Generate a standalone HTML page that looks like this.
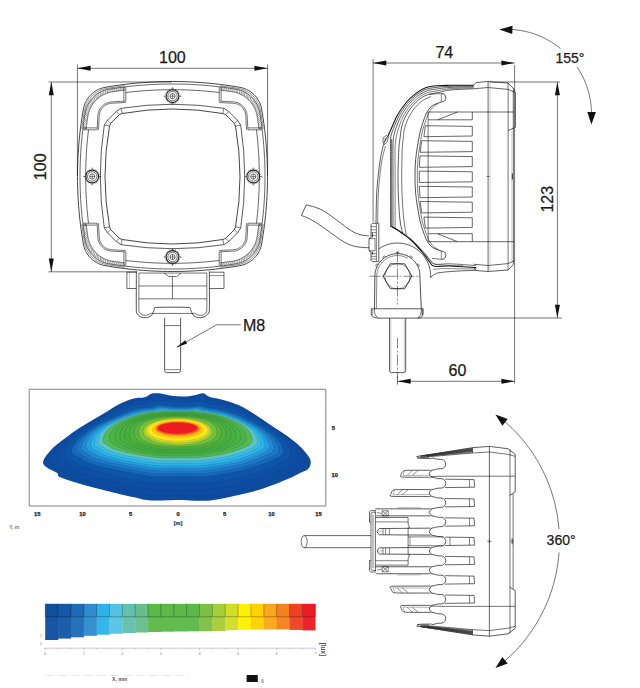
<!DOCTYPE html>
<html lang="en">
<head>
<meta charset="utf-8">
<title>Work lamp dimensions</title>
<style>
html,body{margin:0;padding:0;background:#fff;}
body{width:640px;height:688px;overflow:hidden;font-family:"Liberation Sans",sans-serif;}
svg{display:block;}
svg text{font-family:"Liberation Sans",sans-serif;}
</style>
</head>
<body>
<svg width="640" height="688" viewBox="0 0 640 688" stroke-linecap="butt" stroke-linejoin="round">
<rect x="0" y="0" width="640" height="688" fill="#ffffff"/>
<path d="M172.5 81.5 L167.66 81.53 L162.82 81.62 L157.98 81.77 L153.15 81.98 L148.32 82.25 L143.49 82.58 L138.67 82.97 L133.85 83.42 L129.03 83.93 L124.23 84.5 L119.43 85.13 L114.64 85.82 L109.86 86.56 L105.09 87.37 L103.75 87.64 L102.43 87.98 L101.13 88.38 L99.85 88.85 L98.59 89.39 L97.37 89.98 L96.18 90.64 L95.02 91.36 L93.9 92.14 L92.82 92.97 L91.79 93.86 L90.8 94.8 L89.86 95.79 L88.97 96.82 L88.14 97.9 L87.36 99.02 L86.64 100.18 L85.98 101.37 L85.39 102.59 L84.85 103.85 L84.38 105.13 L83.98 106.43 L83.64 107.75 L83.37 109.09 L82.56 113.86 L81.82 118.64 L81.13 123.43 L80.5 128.23 L79.93 133.03 L79.42 137.85 L78.97 142.67 L78.58 147.49 L78.25 152.32 L77.98 157.15 L77.77 161.98 L77.62 166.82 L77.53 171.66 L77.5 176.5 L77.53 181.34 L77.62 186.18 L77.77 191.02 L77.98 195.85 L78.25 200.68 L78.58 205.51 L78.97 210.33 L79.42 215.15 L79.93 219.97 L80.5 224.77 L81.13 229.57 L81.82 234.36 L82.56 239.14 L83.37 243.91 L83.64 245.25 L83.98 246.57 L84.38 247.87 L84.85 249.15 L85.39 250.41 L85.98 251.63 L86.64 252.82 L87.36 253.98 L88.14 255.1 L88.97 256.18 L89.86 257.21 L90.8 258.2 L91.79 259.14 L92.82 260.03 L93.9 260.86 L95.02 261.64 L96.18 262.36 L97.37 263.02 L98.59 263.61 L99.85 264.15 L101.13 264.62 L102.43 265.02 L103.75 265.36 L105.09 265.63 L109.86 266.44 L114.64 267.18 L119.43 267.87 L124.23 268.5 L129.03 269.07 L133.85 269.58 L138.67 270.03 L143.49 270.42 L148.32 270.75 L153.15 271.02 L157.98 271.23 L162.82 271.38 L167.66 271.47 L172.5 271.5 L177.34 271.47 L182.18 271.38 L187.02 271.23 L191.85 271.02 L196.68 270.75 L201.51 270.42 L206.33 270.03 L211.15 269.58 L215.97 269.07 L220.77 268.5 L225.57 267.87 L230.36 267.18 L235.14 266.44 L239.91 265.63 L241.25 265.36 L242.57 265.02 L243.87 264.62 L245.15 264.15 L246.41 263.61 L247.63 263.02 L248.82 262.36 L249.98 261.64 L251.1 260.86 L252.18 260.03 L253.21 259.14 L254.2 258.2 L255.14 257.21 L256.03 256.18 L256.86 255.1 L257.64 253.98 L258.36 252.82 L259.02 251.63 L259.61 250.41 L260.15 249.15 L260.62 247.87 L261.02 246.57 L261.36 245.25 L261.63 243.91 L262.44 239.14 L263.18 234.36 L263.87 229.57 L264.5 224.77 L265.07 219.97 L265.58 215.15 L266.03 210.33 L266.42 205.51 L266.75 200.68 L267.02 195.85 L267.23 191.02 L267.38 186.18 L267.47 181.34 L267.5 176.5 L267.47 171.66 L267.38 166.82 L267.23 161.98 L267.02 157.15 L266.75 152.32 L266.42 147.49 L266.03 142.67 L265.58 137.85 L265.07 133.03 L264.5 128.23 L263.87 123.43 L263.18 118.64 L262.44 113.86 L261.63 109.09 L261.36 107.75 L261.02 106.43 L260.62 105.13 L260.15 103.85 L259.61 102.59 L259.02 101.37 L258.36 100.18 L257.64 99.02 L256.86 97.9 L256.03 96.82 L255.14 95.79 L254.2 94.8 L253.21 93.86 L252.18 92.97 L251.1 92.14 L249.98 91.36 L248.82 90.64 L247.63 89.98 L246.41 89.39 L245.15 88.85 L243.87 88.38 L242.57 87.98 L241.25 87.64 L239.91 87.37 L235.14 86.56 L230.36 85.82 L225.57 85.13 L220.77 84.5 L215.97 83.93 L211.15 83.42 L206.33 82.97 L201.51 82.58 L196.68 82.25 L191.85 81.98 L187.02 81.77 L182.18 81.62 L177.34 81.53Z" fill="none" stroke="#161616" stroke-width="0.8"/>
<path d="M172.5 84 L167.92 84.03 L163.34 84.11 L158.75 84.24 L154.18 84.43 L149.6 84.67 L145.03 84.97 L140.46 85.32 L135.89 85.72 L131.33 86.18 L126.78 86.69 L122.23 87.25 L117.69 87.87 L113.16 88.54 L108.63 89.27 L107.19 89.54 L105.76 89.9 L104.36 90.32 L102.97 90.82 L101.62 91.39 L100.29 92.03 L99.01 92.73 L97.76 93.5 L96.55 94.34 L95.38 95.23 L94.27 96.19 L93.2 97.2 L92.19 98.27 L91.23 99.38 L90.34 100.55 L89.5 101.76 L88.73 103.01 L88.03 104.29 L87.39 105.62 L86.82 106.97 L86.32 108.36 L85.9 109.76 L85.54 111.19 L85.27 112.63 L84.54 117.16 L83.87 121.69 L83.25 126.23 L82.69 130.78 L82.18 135.33 L81.72 139.89 L81.32 144.46 L80.97 149.03 L80.67 153.6 L80.43 158.18 L80.24 162.75 L80.11 167.34 L80.03 171.92 L80 176.5 L80.03 181.08 L80.11 185.66 L80.24 190.25 L80.43 194.82 L80.67 199.4 L80.97 203.97 L81.32 208.54 L81.72 213.11 L82.18 217.67 L82.69 222.22 L83.25 226.77 L83.87 231.31 L84.54 235.84 L85.27 240.37 L85.54 241.81 L85.9 243.24 L86.32 244.64 L86.82 246.03 L87.39 247.38 L88.03 248.71 L88.73 249.99 L89.5 251.24 L90.34 252.45 L91.23 253.62 L92.19 254.73 L93.2 255.8 L94.27 256.81 L95.38 257.77 L96.55 258.66 L97.76 259.5 L99.01 260.27 L100.29 260.97 L101.62 261.61 L102.97 262.18 L104.36 262.68 L105.76 263.1 L107.19 263.46 L108.63 263.73 L113.16 264.46 L117.69 265.13 L122.23 265.75 L126.78 266.31 L131.33 266.82 L135.89 267.28 L140.46 267.68 L145.03 268.03 L149.6 268.33 L154.18 268.57 L158.75 268.76 L163.34 268.89 L167.92 268.97 L172.5 269 L177.08 268.97 L181.66 268.89 L186.25 268.76 L190.82 268.57 L195.4 268.33 L199.97 268.03 L204.54 267.68 L209.11 267.28 L213.67 266.82 L218.22 266.31 L222.77 265.75 L227.31 265.13 L231.84 264.46 L236.37 263.73 L237.81 263.46 L239.24 263.1 L240.64 262.68 L242.03 262.18 L243.38 261.61 L244.71 260.97 L245.99 260.27 L247.24 259.5 L248.45 258.66 L249.62 257.77 L250.73 256.81 L251.8 255.8 L252.81 254.73 L253.77 253.62 L254.66 252.45 L255.5 251.24 L256.27 249.99 L256.97 248.71 L257.61 247.38 L258.18 246.03 L258.68 244.64 L259.1 243.24 L259.46 241.81 L259.73 240.37 L260.46 235.84 L261.13 231.31 L261.75 226.77 L262.31 222.22 L262.82 217.67 L263.28 213.11 L263.68 208.54 L264.03 203.97 L264.33 199.4 L264.57 194.82 L264.76 190.25 L264.89 185.66 L264.97 181.08 L265 176.5 L264.97 171.92 L264.89 167.34 L264.76 162.75 L264.57 158.18 L264.33 153.6 L264.03 149.03 L263.68 144.46 L263.28 139.89 L262.82 135.33 L262.31 130.78 L261.75 126.23 L261.13 121.69 L260.46 117.16 L259.73 112.63 L259.46 111.19 L259.1 109.76 L258.68 108.36 L258.18 106.97 L257.61 105.62 L256.97 104.29 L256.27 103.01 L255.5 101.76 L254.66 100.55 L253.77 99.38 L252.81 98.27 L251.8 97.2 L250.73 96.19 L249.62 95.23 L248.45 94.34 L247.24 93.5 L245.99 92.73 L244.71 92.03 L243.38 91.39 L242.03 90.82 L240.64 90.32 L239.24 89.9 L237.81 89.54 L236.37 89.27 L231.84 88.54 L227.31 87.87 L222.77 87.25 L218.22 86.69 L213.67 86.18 L209.11 85.72 L204.54 85.32 L199.97 84.97 L195.4 84.67 L190.82 84.43 L186.25 84.24 L181.66 84.11 L177.08 84.03Z" fill="none" stroke="#161616" stroke-width="0.65"/>
<path d="M124.9 85.82 L123.92 85.94 L122.82 86.08 L121.72 86.22 L120.62 86.37 L119.53 86.51 L118.43 86.67 L117.34 86.82 L116.24 86.98 L115.14 87.14 L114.05 87.3 L112.96 87.47 L111.86 87.64 L110.77 87.82 L109.68 87.99 L108.58 88.17 L107.49 88.36 L106.4 88.54 L105.86 88.64 L105.32 88.75 L104.79 88.87 L104.25 89 L103.72 89.15 L103.2 89.3 L102.67 89.46 L102.15 89.64 L101.63 89.82 L101.12 90.02 L100.61 90.23 L100.11 90.44 L99.61 90.67 L99.11 90.91 L98.62 91.16 L98.14 91.41 L97.66 91.68 L97.18 91.96 L96.72 92.24 L96.25 92.54 L95.8 92.85 L95.35 93.16 L94.9 93.49 L94.47 93.82 L94.04 94.16 L93.62 94.51 L93.2 94.87 L92.79 95.24 L92.39 95.62 L92 96 L91.62 96.39 L91.24 96.79 L90.87 97.2 L90.51 97.62 L90.16 98.04 L89.82 98.47 L89.49 98.9 L89.16 99.35 L88.85 99.8 L88.54 100.25 L88.24 100.72 L87.96 101.18 L87.68 101.66 L87.41 102.14 L87.16 102.62 L86.91 103.11 L86.67 103.61 L86.44 104.11 L86.23 104.61 L86.02 105.12 L85.82 105.63 L85.64 106.15 L85.46 106.67 L85.3 107.2 L85.15 107.72 L85 108.25 L84.87 108.79 L84.75 109.32 L84.64 109.86 L84.54 110.4 L84.36 111.49 L84.17 112.58 L83.99 113.68 L83.82 114.77 L83.64 115.86 L83.47 116.96 L83.3 118.05 L83.14 119.14 L82.98 120.24 L82.82 121.34 L82.67 122.43 L82.51 123.53 L82.37 124.62 L82.22 125.72 L82.08 126.82 L81.94 127.92 L81.82 128.9" fill="none" stroke="#161616" stroke-width="0.5"/>
<path d="M124.9 90.12 L124.25 90.2 L123.25 90.32 L122.25 90.45 L121.25 90.58 L120.26 90.72 L119.26 90.85 L118.26 90.99 L117.26 91.13 L116.26 91.28 L115.27 91.42 L114.27 91.57 L113.27 91.72 L112.28 91.88 L111.67 91.98 L111.07 92.09 L110.47 92.22 L109.87 92.36 L109.27 92.51 L108.68 92.68 L108.09 92.85 L107.5 93.04 L106.92 93.24 L106.35 93.46 L105.77 93.68 L105.21 93.92 L104.64 94.17 L104.09 94.43 L103.54 94.7 L102.99 94.99 L102.45 95.28 L101.92 95.59 L101.39 95.91 L100.87 96.24 L100.36 96.58 L99.85 96.93 L99.36 97.29 L98.87 97.66 L98.38 98.04 L97.91 98.44 L97.44 98.84 L96.99 99.25 L96.54 99.67 L96.1 100.1 L95.67 100.54 L95.25 100.99 L94.84 101.44 L94.44 101.91 L94.04 102.38 L93.66 102.87 L93.29 103.36 L92.93 103.85 L92.58 104.36 L92.24 104.87 L91.91 105.39 L91.59 105.92 L91.28 106.45 L90.99 106.99 L90.7 107.54 L90.43 108.09 L90.17 108.64 L89.92 109.21 L89.68 109.77 L89.46 110.35 L89.24 110.92 L89.04 111.5 L88.85 112.09 L88.68 112.68 L88.51 113.27 L88.36 113.87 L88.22 114.47 L88.09 115.07 L87.98 115.67 L87.88 116.28 L87.72 117.27 L87.57 118.27 L87.42 119.27 L87.28 120.26 L87.13 121.26 L86.99 122.26 L86.85 123.26 L86.72 124.26 L86.58 125.25 L86.45 126.25 L86.32 127.25 L86.2 128.25 L86.12 128.9" fill="none" stroke="#161616" stroke-width="0.6"/>
<path d="M124.9 86.92 L122.73 90.39 M122.87 87.17 L120.88 90.63 M121.18 87.39 L119.33 90.84 M119.16 87.67 L117.48 91.1 M117.13 87.95 L115.63 91.37 M115.11 88.25 L113.77 91.65 M113.42 88.5 L112.23 91.89 M111.4 88.82 L110.39 92.24 M109.39 89.14 L108.58 92.7 M107.71 89.44 L107.1 93.18 M105.72 89.91 L105.35 93.86 M103.77 90.52 L103.66 94.64 M101.87 91.28 L102.01 95.54 M100.33 92.01 L100.69 96.36 M98.55 93 L99.16 97.44 M96.84 94.13 L97.7 98.62 M95.48 95.15 L96.55 99.66 M93.94 96.49 L95.24 101 M92.49 97.94 L94.02 102.42 M91.15 99.48 L92.89 103.91 M90.13 100.84 L92.02 105.21 M89 102.55 L91.08 106.83 M88.01 104.33 L90.24 108.5 M87.28 105.87 L89.62 109.93 M86.52 107.77 L88.98 111.69 M85.91 109.72 L88.46 113.49 M85.44 111.71 L88.05 115.31 M85.14 113.39 L87.79 116.85 M84.82 115.4 L87.51 118.7 M84.5 117.42 L87.23 120.55 M84.25 119.11 L87.01 122.1 M83.95 121.13 L86.76 123.95 M83.67 123.16 L86.51 125.81 M83.39 125.18 L86.27 127.66 M83.17 126.87 L86.12 128.9 M82.92 128.9 L86.12 128.9 " fill="none" stroke="#3a3a3a" stroke-width="0.5"/>
<path d="M123.9 87.2 L123.9 100.9" fill="none" stroke="#161616" stroke-width="0.6"/>
<path d="M125.8 87.2 L125.8 101.1" fill="none" stroke="#161616" stroke-width="0.6"/>
<path d="M83.2 127.9 L96.9 127.9" fill="none" stroke="#161616" stroke-width="0.6"/>
<path d="M83.2 129.8 L97.1 129.8" fill="none" stroke="#161616" stroke-width="0.6"/>
<path d="M125.8 101.1 L112.5 101.8 L110.58 101.93 L108.7 102.3 L106.87 102.92 L105.15 103.77 L103.55 104.84 L102.11 106.11 L100.84 107.55 L99.77 109.15 L98.92 110.87 L98.3 112.7 L97.93 114.58 L97.8 116.5 L97.1 129.8" fill="none" stroke="#161616" stroke-width="0.6"/>
<path d="M125.8 102.5 L112.5 103.2 L110.76 103.31 L109.06 103.65 L107.41 104.21 L105.85 104.98 L104.4 105.95 L103.1 107.1 L101.95 108.4 L100.98 109.85 L100.21 111.41 L99.65 113.06 L99.31 114.76 L99.2 116.5 L98.5 129.8" fill="none" stroke="#161616" stroke-width="0.6"/>
<path d="M124.9 267.18 L123.92 267.06 L122.82 266.92 L121.72 266.78 L120.62 266.63 L119.53 266.49 L118.43 266.33 L117.34 266.18 L116.24 266.02 L115.14 265.86 L114.05 265.7 L112.96 265.53 L111.86 265.36 L110.77 265.18 L109.68 265.01 L108.58 264.83 L107.49 264.64 L106.4 264.46 L105.86 264.36 L105.32 264.25 L104.79 264.13 L104.25 264 L103.72 263.85 L103.2 263.7 L102.67 263.54 L102.15 263.36 L101.63 263.18 L101.12 262.98 L100.61 262.77 L100.11 262.56 L99.61 262.33 L99.11 262.09 L98.62 261.84 L98.14 261.59 L97.66 261.32 L97.18 261.04 L96.72 260.76 L96.25 260.46 L95.8 260.15 L95.35 259.84 L94.9 259.51 L94.47 259.18 L94.04 258.84 L93.62 258.49 L93.2 258.13 L92.79 257.76 L92.39 257.38 L92 257 L91.62 256.61 L91.24 256.21 L90.87 255.8 L90.51 255.38 L90.16 254.96 L89.82 254.53 L89.49 254.1 L89.16 253.65 L88.85 253.2 L88.54 252.75 L88.24 252.28 L87.96 251.82 L87.68 251.34 L87.41 250.86 L87.16 250.38 L86.91 249.89 L86.67 249.39 L86.44 248.89 L86.23 248.39 L86.02 247.88 L85.82 247.37 L85.64 246.85 L85.46 246.33 L85.3 245.8 L85.15 245.28 L85 244.75 L84.87 244.21 L84.75 243.68 L84.64 243.14 L84.54 242.6 L84.36 241.51 L84.17 240.42 L83.99 239.32 L83.82 238.23 L83.64 237.14 L83.47 236.04 L83.3 234.95 L83.14 233.86 L82.98 232.76 L82.82 231.66 L82.67 230.57 L82.51 229.47 L82.37 228.38 L82.22 227.28 L82.08 226.18 L81.94 225.08 L81.82 224.1" fill="none" stroke="#161616" stroke-width="0.5"/>
<path d="M124.9 262.88 L124.25 262.8 L123.25 262.68 L122.25 262.55 L121.25 262.42 L120.26 262.28 L119.26 262.15 L118.26 262.01 L117.26 261.87 L116.26 261.72 L115.27 261.58 L114.27 261.43 L113.27 261.28 L112.28 261.12 L111.67 261.02 L111.07 260.91 L110.47 260.78 L109.87 260.64 L109.27 260.49 L108.68 260.32 L108.09 260.15 L107.5 259.96 L106.92 259.76 L106.35 259.54 L105.77 259.32 L105.21 259.08 L104.64 258.83 L104.09 258.57 L103.54 258.3 L102.99 258.01 L102.45 257.72 L101.92 257.41 L101.39 257.09 L100.87 256.76 L100.36 256.42 L99.85 256.07 L99.36 255.71 L98.87 255.34 L98.38 254.96 L97.91 254.56 L97.44 254.16 L96.99 253.75 L96.54 253.33 L96.1 252.9 L95.67 252.46 L95.25 252.01 L94.84 251.56 L94.44 251.09 L94.04 250.62 L93.66 250.13 L93.29 249.64 L92.93 249.15 L92.58 248.64 L92.24 248.13 L91.91 247.61 L91.59 247.08 L91.28 246.55 L90.99 246.01 L90.7 245.46 L90.43 244.91 L90.17 244.36 L89.92 243.79 L89.68 243.23 L89.46 242.65 L89.24 242.08 L89.04 241.5 L88.85 240.91 L88.68 240.32 L88.51 239.73 L88.36 239.13 L88.22 238.53 L88.09 237.93 L87.98 237.33 L87.88 236.72 L87.72 235.73 L87.57 234.73 L87.42 233.73 L87.28 232.74 L87.13 231.74 L86.99 230.74 L86.85 229.74 L86.72 228.74 L86.58 227.75 L86.45 226.75 L86.32 225.75 L86.2 224.75 L86.12 224.1" fill="none" stroke="#161616" stroke-width="0.6"/>
<path d="M124.9 266.08 L122.73 262.61 M122.87 265.83 L120.88 262.37 M121.18 265.61 L119.33 262.16 M119.16 265.33 L117.48 261.9 M117.13 265.05 L115.63 261.63 M115.11 264.75 L113.77 261.35 M113.42 264.5 L112.23 261.11 M111.4 264.18 L110.39 260.76 M109.39 263.86 L108.58 260.3 M107.71 263.56 L107.1 259.82 M105.72 263.09 L105.35 259.14 M103.77 262.48 L103.66 258.36 M101.87 261.72 L102.01 257.46 M100.33 260.99 L100.69 256.64 M98.55 260 L99.16 255.56 M96.84 258.87 L97.7 254.38 M95.48 257.85 L96.55 253.34 M93.94 256.51 L95.24 252 M92.49 255.06 L94.02 250.58 M91.15 253.52 L92.89 249.09 M90.13 252.16 L92.02 247.79 M89 250.45 L91.08 246.17 M88.01 248.67 L90.24 244.5 M87.28 247.13 L89.62 243.07 M86.52 245.23 L88.98 241.31 M85.91 243.28 L88.46 239.51 M85.44 241.29 L88.05 237.69 M85.14 239.61 L87.79 236.15 M84.82 237.6 L87.51 234.3 M84.5 235.58 L87.23 232.45 M84.25 233.89 L87.01 230.9 M83.95 231.87 L86.76 229.05 M83.67 229.84 L86.51 227.19 M83.39 227.82 L86.27 225.34 M83.17 226.13 L86.12 224.1 M82.92 224.1 L86.12 224.1 " fill="none" stroke="#3a3a3a" stroke-width="0.5"/>
<path d="M123.9 265.8 L123.9 252.1" fill="none" stroke="#161616" stroke-width="0.6"/>
<path d="M125.8 265.8 L125.8 251.9" fill="none" stroke="#161616" stroke-width="0.6"/>
<path d="M83.2 225.1 L96.9 225.1" fill="none" stroke="#161616" stroke-width="0.6"/>
<path d="M83.2 223.2 L97.1 223.2" fill="none" stroke="#161616" stroke-width="0.6"/>
<path d="M125.8 251.9 L112.5 251.2 L110.58 251.07 L108.7 250.7 L106.87 250.08 L105.15 249.23 L103.55 248.16 L102.11 246.89 L100.84 245.45 L99.77 243.85 L98.92 242.13 L98.3 240.3 L97.93 238.42 L97.8 236.5 L97.1 223.2" fill="none" stroke="#161616" stroke-width="0.6"/>
<path d="M125.8 250.5 L112.5 249.8 L110.76 249.69 L109.06 249.35 L107.41 248.79 L105.85 248.02 L104.4 247.05 L103.1 245.9 L101.95 244.6 L100.98 243.15 L100.21 241.59 L99.65 239.94 L99.31 238.24 L99.2 236.5 L98.5 223.2" fill="none" stroke="#161616" stroke-width="0.6"/>
<path d="M220.1 85.82 L221.08 85.94 L222.18 86.08 L223.28 86.22 L224.38 86.37 L225.47 86.51 L226.57 86.67 L227.66 86.82 L228.76 86.98 L229.86 87.14 L230.95 87.3 L232.04 87.47 L233.14 87.64 L234.23 87.82 L235.32 87.99 L236.42 88.17 L237.51 88.36 L238.6 88.54 L239.14 88.64 L239.68 88.75 L240.21 88.87 L240.75 89 L241.28 89.15 L241.8 89.3 L242.33 89.46 L242.85 89.64 L243.37 89.82 L243.88 90.02 L244.39 90.23 L244.89 90.44 L245.39 90.67 L245.89 90.91 L246.38 91.16 L246.86 91.41 L247.34 91.68 L247.82 91.96 L248.28 92.24 L248.75 92.54 L249.2 92.85 L249.65 93.16 L250.1 93.49 L250.53 93.82 L250.96 94.16 L251.38 94.51 L251.8 94.87 L252.21 95.24 L252.61 95.62 L253 96 L253.38 96.39 L253.76 96.79 L254.13 97.2 L254.49 97.62 L254.84 98.04 L255.18 98.47 L255.51 98.9 L255.84 99.35 L256.15 99.8 L256.46 100.25 L256.76 100.72 L257.04 101.18 L257.32 101.66 L257.59 102.14 L257.84 102.62 L258.09 103.11 L258.33 103.61 L258.56 104.11 L258.77 104.61 L258.98 105.12 L259.18 105.63 L259.36 106.15 L259.54 106.67 L259.7 107.2 L259.85 107.72 L260 108.25 L260.13 108.79 L260.25 109.32 L260.36 109.86 L260.46 110.4 L260.64 111.49 L260.83 112.58 L261.01 113.68 L261.18 114.77 L261.36 115.86 L261.53 116.96 L261.7 118.05 L261.86 119.14 L262.02 120.24 L262.18 121.34 L262.33 122.43 L262.49 123.53 L262.63 124.62 L262.78 125.72 L262.92 126.82 L263.06 127.92 L263.18 128.9" fill="none" stroke="#161616" stroke-width="0.5"/>
<path d="M220.1 90.12 L220.75 90.2 L221.75 90.32 L222.75 90.45 L223.75 90.58 L224.74 90.72 L225.74 90.85 L226.74 90.99 L227.74 91.13 L228.74 91.28 L229.73 91.42 L230.73 91.57 L231.73 91.72 L232.72 91.88 L233.33 91.98 L233.93 92.09 L234.53 92.22 L235.13 92.36 L235.73 92.51 L236.32 92.68 L236.91 92.85 L237.5 93.04 L238.08 93.24 L238.65 93.46 L239.23 93.68 L239.79 93.92 L240.36 94.17 L240.91 94.43 L241.46 94.7 L242.01 94.99 L242.55 95.28 L243.08 95.59 L243.61 95.91 L244.13 96.24 L244.64 96.58 L245.15 96.93 L245.64 97.29 L246.13 97.66 L246.62 98.04 L247.09 98.44 L247.56 98.84 L248.01 99.25 L248.46 99.67 L248.9 100.1 L249.33 100.54 L249.75 100.99 L250.16 101.44 L250.56 101.91 L250.96 102.38 L251.34 102.87 L251.71 103.36 L252.07 103.85 L252.42 104.36 L252.76 104.87 L253.09 105.39 L253.41 105.92 L253.72 106.45 L254.01 106.99 L254.3 107.54 L254.57 108.09 L254.83 108.64 L255.08 109.21 L255.32 109.77 L255.54 110.35 L255.76 110.92 L255.96 111.5 L256.15 112.09 L256.32 112.68 L256.49 113.27 L256.64 113.87 L256.78 114.47 L256.91 115.07 L257.02 115.67 L257.12 116.28 L257.28 117.27 L257.43 118.27 L257.58 119.27 L257.72 120.26 L257.87 121.26 L258.01 122.26 L258.15 123.26 L258.28 124.26 L258.42 125.25 L258.55 126.25 L258.68 127.25 L258.8 128.25 L258.88 128.9" fill="none" stroke="#161616" stroke-width="0.6"/>
<path d="M220.1 86.92 L222.27 90.39 M222.13 87.17 L224.12 90.63 M223.82 87.39 L225.67 90.84 M225.84 87.67 L227.52 91.1 M227.87 87.95 L229.37 91.37 M229.89 88.25 L231.23 91.65 M231.58 88.5 L232.77 91.89 M233.6 88.82 L234.61 92.24 M235.61 89.14 L236.42 92.7 M237.29 89.44 L237.9 93.18 M239.28 89.91 L239.65 93.86 M241.23 90.52 L241.34 94.64 M243.13 91.28 L242.99 95.54 M244.67 92.01 L244.31 96.36 M246.45 93 L245.84 97.44 M248.16 94.13 L247.3 98.62 M249.52 95.15 L248.45 99.66 M251.06 96.49 L249.76 101 M252.51 97.94 L250.98 102.42 M253.85 99.48 L252.11 103.91 M254.87 100.84 L252.98 105.21 M256 102.55 L253.92 106.83 M256.99 104.33 L254.76 108.5 M257.72 105.87 L255.38 109.93 M258.48 107.77 L256.02 111.69 M259.09 109.72 L256.54 113.49 M259.56 111.71 L256.95 115.31 M259.86 113.39 L257.21 116.85 M260.18 115.4 L257.49 118.7 M260.5 117.42 L257.77 120.55 M260.75 119.11 L257.99 122.1 M261.05 121.13 L258.24 123.95 M261.33 123.16 L258.49 125.81 M261.61 125.18 L258.73 127.66 M261.83 126.87 L258.88 128.9 M262.08 128.9 L258.88 128.9 " fill="none" stroke="#3a3a3a" stroke-width="0.5"/>
<path d="M221.1 87.2 L221.1 100.9" fill="none" stroke="#161616" stroke-width="0.6"/>
<path d="M219.2 87.2 L219.2 101.1" fill="none" stroke="#161616" stroke-width="0.6"/>
<path d="M261.8 127.9 L248.1 127.9" fill="none" stroke="#161616" stroke-width="0.6"/>
<path d="M261.8 129.8 L247.9 129.8" fill="none" stroke="#161616" stroke-width="0.6"/>
<path d="M219.2 101.1 L232.5 101.8 L234.42 101.93 L236.3 102.3 L238.13 102.92 L239.85 103.77 L241.45 104.84 L242.89 106.11 L244.16 107.55 L245.23 109.15 L246.08 110.87 L246.7 112.7 L247.07 114.58 L247.2 116.5 L247.9 129.8" fill="none" stroke="#161616" stroke-width="0.6"/>
<path d="M219.2 102.5 L232.5 103.2 L234.24 103.31 L235.94 103.65 L237.59 104.21 L239.15 104.98 L240.6 105.95 L241.9 107.1 L243.05 108.4 L244.02 109.85 L244.79 111.41 L245.35 113.06 L245.69 114.76 L245.8 116.5 L246.5 129.8" fill="none" stroke="#161616" stroke-width="0.6"/>
<path d="M220.1 267.18 L221.08 267.06 L222.18 266.92 L223.28 266.78 L224.38 266.63 L225.47 266.49 L226.57 266.33 L227.66 266.18 L228.76 266.02 L229.86 265.86 L230.95 265.7 L232.04 265.53 L233.14 265.36 L234.23 265.18 L235.32 265.01 L236.42 264.83 L237.51 264.64 L238.6 264.46 L239.14 264.36 L239.68 264.25 L240.21 264.13 L240.75 264 L241.28 263.85 L241.8 263.7 L242.33 263.54 L242.85 263.36 L243.37 263.18 L243.88 262.98 L244.39 262.77 L244.89 262.56 L245.39 262.33 L245.89 262.09 L246.38 261.84 L246.86 261.59 L247.34 261.32 L247.82 261.04 L248.28 260.76 L248.75 260.46 L249.2 260.15 L249.65 259.84 L250.1 259.51 L250.53 259.18 L250.96 258.84 L251.38 258.49 L251.8 258.13 L252.21 257.76 L252.61 257.38 L253 257 L253.38 256.61 L253.76 256.21 L254.13 255.8 L254.49 255.38 L254.84 254.96 L255.18 254.53 L255.51 254.1 L255.84 253.65 L256.15 253.2 L256.46 252.75 L256.76 252.28 L257.04 251.82 L257.32 251.34 L257.59 250.86 L257.84 250.38 L258.09 249.89 L258.33 249.39 L258.56 248.89 L258.77 248.39 L258.98 247.88 L259.18 247.37 L259.36 246.85 L259.54 246.33 L259.7 245.8 L259.85 245.28 L260 244.75 L260.13 244.21 L260.25 243.68 L260.36 243.14 L260.46 242.6 L260.64 241.51 L260.83 240.42 L261.01 239.32 L261.18 238.23 L261.36 237.14 L261.53 236.04 L261.7 234.95 L261.86 233.86 L262.02 232.76 L262.18 231.66 L262.33 230.57 L262.49 229.47 L262.63 228.38 L262.78 227.28 L262.92 226.18 L263.06 225.08 L263.18 224.1" fill="none" stroke="#161616" stroke-width="0.5"/>
<path d="M220.1 262.88 L220.75 262.8 L221.75 262.68 L222.75 262.55 L223.75 262.42 L224.74 262.28 L225.74 262.15 L226.74 262.01 L227.74 261.87 L228.74 261.72 L229.73 261.58 L230.73 261.43 L231.73 261.28 L232.72 261.12 L233.33 261.02 L233.93 260.91 L234.53 260.78 L235.13 260.64 L235.73 260.49 L236.32 260.32 L236.91 260.15 L237.5 259.96 L238.08 259.76 L238.65 259.54 L239.23 259.32 L239.79 259.08 L240.36 258.83 L240.91 258.57 L241.46 258.3 L242.01 258.01 L242.55 257.72 L243.08 257.41 L243.61 257.09 L244.13 256.76 L244.64 256.42 L245.15 256.07 L245.64 255.71 L246.13 255.34 L246.62 254.96 L247.09 254.56 L247.56 254.16 L248.01 253.75 L248.46 253.33 L248.9 252.9 L249.33 252.46 L249.75 252.01 L250.16 251.56 L250.56 251.09 L250.96 250.62 L251.34 250.13 L251.71 249.64 L252.07 249.15 L252.42 248.64 L252.76 248.13 L253.09 247.61 L253.41 247.08 L253.72 246.55 L254.01 246.01 L254.3 245.46 L254.57 244.91 L254.83 244.36 L255.08 243.79 L255.32 243.23 L255.54 242.65 L255.76 242.08 L255.96 241.5 L256.15 240.91 L256.32 240.32 L256.49 239.73 L256.64 239.13 L256.78 238.53 L256.91 237.93 L257.02 237.33 L257.12 236.72 L257.28 235.73 L257.43 234.73 L257.58 233.73 L257.72 232.74 L257.87 231.74 L258.01 230.74 L258.15 229.74 L258.28 228.74 L258.42 227.75 L258.55 226.75 L258.68 225.75 L258.8 224.75 L258.88 224.1" fill="none" stroke="#161616" stroke-width="0.6"/>
<path d="M220.1 266.08 L222.27 262.61 M222.13 265.83 L224.12 262.37 M223.82 265.61 L225.67 262.16 M225.84 265.33 L227.52 261.9 M227.87 265.05 L229.37 261.63 M229.89 264.75 L231.23 261.35 M231.58 264.5 L232.77 261.11 M233.6 264.18 L234.61 260.76 M235.61 263.86 L236.42 260.3 M237.29 263.56 L237.9 259.82 M239.28 263.09 L239.65 259.14 M241.23 262.48 L241.34 258.36 M243.13 261.72 L242.99 257.46 M244.67 260.99 L244.31 256.64 M246.45 260 L245.84 255.56 M248.16 258.87 L247.3 254.38 M249.52 257.85 L248.45 253.34 M251.06 256.51 L249.76 252 M252.51 255.06 L250.98 250.58 M253.85 253.52 L252.11 249.09 M254.87 252.16 L252.98 247.79 M256 250.45 L253.92 246.17 M256.99 248.67 L254.76 244.5 M257.72 247.13 L255.38 243.07 M258.48 245.23 L256.02 241.31 M259.09 243.28 L256.54 239.51 M259.56 241.29 L256.95 237.69 M259.86 239.61 L257.21 236.15 M260.18 237.6 L257.49 234.3 M260.5 235.58 L257.77 232.45 M260.75 233.89 L257.99 230.9 M261.05 231.87 L258.24 229.05 M261.33 229.84 L258.49 227.19 M261.61 227.82 L258.73 225.34 M261.83 226.13 L258.88 224.1 M262.08 224.1 L258.88 224.1 " fill="none" stroke="#3a3a3a" stroke-width="0.5"/>
<path d="M221.1 265.8 L221.1 252.1" fill="none" stroke="#161616" stroke-width="0.6"/>
<path d="M219.2 265.8 L219.2 251.9" fill="none" stroke="#161616" stroke-width="0.6"/>
<path d="M261.8 225.1 L248.1 225.1" fill="none" stroke="#161616" stroke-width="0.6"/>
<path d="M261.8 223.2 L247.9 223.2" fill="none" stroke="#161616" stroke-width="0.6"/>
<path d="M219.2 251.9 L232.5 251.2 L234.42 251.07 L236.3 250.7 L238.13 250.08 L239.85 249.23 L241.45 248.16 L242.89 246.89 L244.16 245.45 L245.23 243.85 L246.08 242.13 L246.7 240.3 L247.07 238.42 L247.2 236.5 L247.9 223.2" fill="none" stroke="#161616" stroke-width="0.6"/>
<path d="M219.2 250.5 L232.5 249.8 L234.24 249.69 L235.94 249.35 L237.59 248.79 L239.15 248.02 L240.6 247.05 L241.9 245.9 L243.05 244.6 L244.02 243.15 L244.79 241.59 L245.35 239.94 L245.69 238.24 L245.8 236.5 L246.5 223.2" fill="none" stroke="#161616" stroke-width="0.6"/>
<path d="M125.8 92.51 L130.47 91.97 L135.14 91.49 L139.81 91.07 L144.48 90.71 L149.15 90.4 L153.82 90.15 L158.49 89.95 L163.16 89.81 L167.83 89.73 L172.5 89.7 L177.17 89.73 L181.84 89.81 L186.51 89.95 L191.18 90.15 L195.85 90.4 L200.52 90.71 L205.19 91.07 L209.86 91.49 L214.53 91.97 L219.2 92.51" fill="none" stroke="#161616" stroke-width="0.65"/>
<path d="M256.49 129.8 L257.03 134.47 L257.51 139.14 L257.93 143.81 L258.29 148.48 L258.6 153.15 L258.85 157.82 L259.05 162.49 L259.19 167.16 L259.27 171.83 L259.3 176.5 L259.27 181.17 L259.19 185.84 L259.05 190.51 L258.85 195.18 L258.6 199.85 L258.29 204.52 L257.93 209.19 L257.51 213.86 L257.03 218.53 L256.49 223.2" fill="none" stroke="#161616" stroke-width="0.65"/>
<path d="M219.2 260.49 L214.53 261.03 L209.86 261.51 L205.19 261.93 L200.52 262.29 L195.85 262.6 L191.18 262.85 L186.51 263.05 L181.84 263.19 L177.17 263.27 L172.5 263.3 L167.83 263.27 L163.16 263.19 L158.49 263.05 L153.82 262.85 L149.15 262.6 L144.48 262.29 L139.81 261.93 L135.14 261.51 L130.47 261.03 L125.8 260.49" fill="none" stroke="#161616" stroke-width="0.65"/>
<path d="M88.51 223.2 L87.97 218.53 L87.49 213.86 L87.07 209.19 L86.71 204.52 L86.4 199.85 L86.15 195.18 L85.95 190.51 L85.81 185.84 L85.73 181.17 L85.7 176.5 L85.73 171.83 L85.81 167.16 L85.95 162.49 L86.15 157.82 L86.4 153.15 L86.71 148.48 L87.07 143.81 L87.49 139.14 L87.97 134.47 L88.51 129.8" fill="none" stroke="#161616" stroke-width="0.65"/>
<path d="M223.9 108.3 Q172.5 100.3 121.1 108.3 L116.2 111.5 L107.5 120.2 L104.3 125.1 Q96.3 176.5 104.3 227.9 L107.5 232.8 L116.2 241.5 L121.1 244.7 Q172.5 252.7 223.9 244.7 L228.8 241.5 L237.5 232.8 L240.7 227.9 Q248.7 176.5 240.7 125.1 L237.5 120.2 L228.8 111.5 L223.9 108.3 Z" fill="none" stroke="#161616" stroke-width="0.7"/>
<path d="M222.8 113.5 Q172.5 104.5 122.2 113.5 L119.3 114.7 L110.7 123.3 L109.5 126.2 Q100.5 176.5 109.5 226.8 L110.7 229.7 L119.3 238.3 L122.2 239.5 Q172.5 248.5 222.8 239.5 L225.7 238.3 L234.3 229.7 L235.5 226.8 Q244.5 176.5 235.5 126.2 L234.3 123.3 L225.7 114.7 L222.8 113.5 Z" fill="none" stroke="#161616" stroke-width="0.8"/>
<path d="M121.1 108.3 L122.2 113.5" fill="none" stroke="#161616" stroke-width="0.55"/>
<path d="M116.2 111.5 L119.3 114.7" fill="none" stroke="#161616" stroke-width="0.55"/>
<path d="M107.5 120.2 L110.7 123.3" fill="none" stroke="#161616" stroke-width="0.55"/>
<path d="M104.3 125.1 L109.5 126.2" fill="none" stroke="#161616" stroke-width="0.55"/>
<path d="M121.1 244.7 L122.2 239.5" fill="none" stroke="#161616" stroke-width="0.55"/>
<path d="M116.2 241.5 L119.3 238.3" fill="none" stroke="#161616" stroke-width="0.55"/>
<path d="M107.5 232.8 L110.7 229.7" fill="none" stroke="#161616" stroke-width="0.55"/>
<path d="M104.3 227.9 L109.5 226.8" fill="none" stroke="#161616" stroke-width="0.55"/>
<path d="M223.9 108.3 L222.8 113.5" fill="none" stroke="#161616" stroke-width="0.55"/>
<path d="M228.8 111.5 L225.7 114.7" fill="none" stroke="#161616" stroke-width="0.55"/>
<path d="M237.5 120.2 L234.3 123.3" fill="none" stroke="#161616" stroke-width="0.55"/>
<path d="M240.7 125.1 L235.5 126.2" fill="none" stroke="#161616" stroke-width="0.55"/>
<path d="M223.9 244.7 L222.8 239.5" fill="none" stroke="#161616" stroke-width="0.55"/>
<path d="M228.8 241.5 L225.7 238.3" fill="none" stroke="#161616" stroke-width="0.55"/>
<path d="M237.5 232.8 L234.3 229.7" fill="none" stroke="#161616" stroke-width="0.55"/>
<path d="M240.7 227.9 L235.5 226.8" fill="none" stroke="#161616" stroke-width="0.55"/>
<circle cx="172.5" cy="96.2" r="6.4" fill="none" stroke="#222" stroke-width="1.1"/>
<circle cx="172.5" cy="96.2" r="7.5" fill="none" stroke="#555" stroke-width="0.7" stroke-dasharray="0.9 1.2"/>
<circle cx="172.5" cy="96.2" r="4.7" fill="none" stroke="#161616" stroke-width="0.6"/>
<circle cx="172.5" cy="96.2" r="2.6" fill="none" stroke="#161616" stroke-width="0.6"/>
<path d="M169.9 96.2 L175.1 96.2" fill="none" stroke="#161616" stroke-width="0.5"/>
<path d="M172.5 93.6 L172.5 98.8" fill="none" stroke="#161616" stroke-width="0.5"/>
<path d="M179.5 96.2 L181.5 96.2" fill="none" stroke="#161616" stroke-width="0.55"/>
<path d="M165.5 96.2 L163.5 96.2" fill="none" stroke="#161616" stroke-width="0.55"/>
<path d="M172.5 103.2 L172.5 105.2" fill="none" stroke="#161616" stroke-width="0.55"/>
<path d="M172.5 89.2 L172.5 87.2" fill="none" stroke="#161616" stroke-width="0.55"/>
<circle cx="172.5" cy="257" r="6.4" fill="none" stroke="#222" stroke-width="1.1"/>
<circle cx="172.5" cy="257" r="7.5" fill="none" stroke="#555" stroke-width="0.7" stroke-dasharray="0.9 1.2"/>
<circle cx="172.5" cy="257" r="4.7" fill="none" stroke="#161616" stroke-width="0.6"/>
<circle cx="172.5" cy="257" r="2.6" fill="none" stroke="#161616" stroke-width="0.6"/>
<path d="M169.9 257 L175.1 257" fill="none" stroke="#161616" stroke-width="0.5"/>
<path d="M172.5 254.4 L172.5 259.6" fill="none" stroke="#161616" stroke-width="0.5"/>
<path d="M179.5 257 L181.5 257" fill="none" stroke="#161616" stroke-width="0.55"/>
<path d="M165.5 257 L163.5 257" fill="none" stroke="#161616" stroke-width="0.55"/>
<path d="M172.5 264 L172.5 266" fill="none" stroke="#161616" stroke-width="0.55"/>
<path d="M172.5 250 L172.5 248" fill="none" stroke="#161616" stroke-width="0.55"/>
<circle cx="92.2" cy="176.5" r="6.4" fill="none" stroke="#222" stroke-width="1.1"/>
<circle cx="92.2" cy="176.5" r="7.5" fill="none" stroke="#555" stroke-width="0.7" stroke-dasharray="0.9 1.2"/>
<circle cx="92.2" cy="176.5" r="4.7" fill="none" stroke="#161616" stroke-width="0.6"/>
<circle cx="92.2" cy="176.5" r="2.6" fill="none" stroke="#161616" stroke-width="0.6"/>
<path d="M89.6 176.5 L94.8 176.5" fill="none" stroke="#161616" stroke-width="0.5"/>
<path d="M92.2 173.9 L92.2 179.1" fill="none" stroke="#161616" stroke-width="0.5"/>
<path d="M99.2 176.5 L101.2 176.5" fill="none" stroke="#161616" stroke-width="0.55"/>
<path d="M85.2 176.5 L83.2 176.5" fill="none" stroke="#161616" stroke-width="0.55"/>
<path d="M92.2 183.5 L92.2 185.5" fill="none" stroke="#161616" stroke-width="0.55"/>
<path d="M92.2 169.5 L92.2 167.5" fill="none" stroke="#161616" stroke-width="0.55"/>
<circle cx="253.3" cy="176.5" r="6.4" fill="none" stroke="#222" stroke-width="1.1"/>
<circle cx="253.3" cy="176.5" r="7.5" fill="none" stroke="#555" stroke-width="0.7" stroke-dasharray="0.9 1.2"/>
<circle cx="253.3" cy="176.5" r="4.7" fill="none" stroke="#161616" stroke-width="0.6"/>
<circle cx="253.3" cy="176.5" r="2.6" fill="none" stroke="#161616" stroke-width="0.6"/>
<path d="M250.7 176.5 L255.9 176.5" fill="none" stroke="#161616" stroke-width="0.5"/>
<path d="M253.3 173.9 L253.3 179.1" fill="none" stroke="#161616" stroke-width="0.5"/>
<path d="M260.3 176.5 L262.3 176.5" fill="none" stroke="#161616" stroke-width="0.55"/>
<path d="M246.3 176.5 L244.3 176.5" fill="none" stroke="#161616" stroke-width="0.55"/>
<path d="M253.3 183.5 L253.3 185.5" fill="none" stroke="#161616" stroke-width="0.55"/>
<path d="M253.3 169.5 L253.3 167.5" fill="none" stroke="#161616" stroke-width="0.55"/>
<path d="M136.33 272.19 L126.88 272.19 L126.88 288.52 L136.33 288.52" fill="none" stroke="#161616" stroke-width="0.65"/>
<path d="M129.45 272.19 L129.45 288.52" fill="none" stroke="#777" stroke-width="0.4"/>
<path d="M209.38 272.19 L223.98 272.19 L223.98 288.52 L209.38 288.52" fill="none" stroke="#161616" stroke-width="0.65"/>
<path d="M209.38 275.62 L223.98 275.62" fill="none" stroke="#161616" stroke-width="0.5"/>
<path d="M136.33 271.33 C136.33 276.44 136.21 304.04 136.33 309.66 C136.44 315.27 136.73 312.54 137.19 313.44 C137.65 314.33 138.85 315.79 139.77 316.36 C140.68 316.93 142.92 317.62 144.06 317.73 C145.21 317.85 147.4 317.52 148.36 317.22 C149.32 316.92 150.66 316.12 151.28 315.5 C151.9 314.88 152.59 313.36 153 312.58 C153.41 311.8 153.85 310.34 154.38 309.66 C154.9 308.97 152.48 307.72 156.95 307.42 C161.42 307.12 183.42 307.12 187.89 307.42 C192.36 307.72 189.94 308.97 190.47 309.66 C191 310.34 191.43 311.8 191.84 312.58 C192.26 313.36 192.94 314.88 193.56 315.5 C194.18 316.12 195.52 316.92 196.48 317.22 C197.45 317.52 199.64 317.85 200.78 317.73 C201.93 317.62 204.12 316.93 205.08 316.36 C206.04 315.79 207.43 314.33 208 313.44 C208.57 312.54 209.19 315.27 209.38 309.66 C209.56 304.04 209.38 276.44 209.38 271.33" fill="none" stroke="#161616" stroke-width="0.75"/>
<path d="M138.91 273.05 C138.91 277.86 138.77 303.87 138.91 309.14 C139.04 314.41 139.53 311.84 139.94 312.58 C140.35 313.31 141.34 314.27 142 314.64 C142.66 315.01 144.07 315.31 144.92 315.33 C145.77 315.35 147.6 315.06 148.36 314.81 C149.12 314.56 150.11 313.62 150.59 313.44 C151.07 313.25 151.79 313.44 151.97 313.44" fill="none" stroke="#161616" stroke-width="0.6"/>
<path d="M206.8 273.05 C206.8 277.86 206.93 303.87 206.8 309.14 C206.66 314.41 206.18 311.84 205.77 312.58 C205.35 313.31 204.37 314.27 203.7 314.64 C203.04 315.01 201.63 315.31 200.78 315.33 C199.93 315.35 198.1 315.06 197.34 314.81 C196.59 314.56 195.59 313.62 195.11 313.44 C194.63 313.25 193.92 313.44 193.73 313.44" fill="none" stroke="#161616" stroke-width="0.6"/>
<path d="M151.97 313.44 L193.73 313.44" fill="none" stroke="#161616" stroke-width="0.6"/>
<path d="M138.91 273.05 L206.8 273.05" fill="none" stroke="#161616" stroke-width="0.6"/>
<path d="M138.91 285.94 L206.8 285.94" fill="none" stroke="#161616" stroke-width="0.6"/>
<path d="M138.91 298.83 L206.8 298.83" fill="none" stroke="#161616" stroke-width="0.6"/>
<path d="M172.42 276.48 L172.42 298.83" fill="none" stroke="#161616" stroke-width="0.6"/>
<path d="M163.83 273.05 L168.98 276.48 L176.72 276.48 L181.02 273.05" fill="none" stroke="#161616" stroke-width="0.6"/>
<path d="M164.6 317.7 L164.6 370.5 Q164.6 372.6 166.6 372.6 L178.6 372.6 Q180.6 372.6 180.6 370.5 L180.6 317.7" fill="none" stroke="#161616" stroke-width="0.7"/>
<path d="M164.6 325.6 L180.6 325.6" fill="none" stroke="#161616" stroke-width="0.6"/>
<path d="M165.1 369.6 L180.1 369.6" fill="none" stroke="#161616" stroke-width="0.5"/>
<path d="M216.5 324.8 L240.8 324.8" fill="none" stroke="#161616" stroke-width="0.6"/>
<path d="M216.5 324.8 L177 347.2" fill="none" stroke="#161616" stroke-width="0.6"/>
<path d="M176.2 347.6 L185.3 340.34 L187.08 343.46Z" fill="#111"/>
<text x="242.9" y="330.9" font-size="16" text-anchor="start" font-weight="normal" fill="#1a1a1a" stroke="#1a1a1a" stroke-width="0.25">M8</text>
<path d="M77.4 64.5 L77.4 176" fill="none" stroke="#161616" stroke-width="0.6"/>
<path d="M267.6 64.5 L267.6 176" fill="none" stroke="#161616" stroke-width="0.6"/>
<path d="M77.4 68.3 L267.6 68.3" fill="none" stroke="#161616" stroke-width="0.6"/>
<path d="M77.4 68.3 L90.6 65.8 L90.6 70.8Z" fill="#111"/>
<path d="M267.6 68.3 L254.4 70.8 L254.4 65.8Z" fill="#111"/>
<text x="172.4" y="63" font-size="16" text-anchor="middle" font-weight="normal" fill="#1a1a1a" stroke="#1a1a1a" stroke-width="0.25">100</text>
<path d="M48.5 82 L172 82" fill="none" stroke="#161616" stroke-width="0.6"/>
<path d="M48.5 271.8 L137 271.8" fill="none" stroke="#161616" stroke-width="0.6"/>
<path d="M51.3 82 L51.3 271.8" fill="none" stroke="#161616" stroke-width="0.6"/>
<path d="M51.3 82 L53.8 95.2 L48.8 95.2Z" fill="#111"/>
<path d="M51.3 271.8 L48.8 258.6 L53.8 258.6Z" fill="#111"/>
<text x="46.2" y="166.8" font-size="16" text-anchor="middle" font-weight="normal" fill="#1a1a1a" transform="rotate(-90 46.2 166.8)" stroke="#1a1a1a" stroke-width="0.25">100</text>
<path d="M473.75 85.2 L476.25 82.5 L488.1 81.5 L508.1 83 L513.6 88.75" fill="none" stroke="#161616" stroke-width="0.7"/>
<path d="M473.75 88.75 L488.1 87.5 L508.1 89.4 L514.6 92.5" fill="none" stroke="#161616" stroke-width="0.65"/>
<path d="M473.75 267.8 L476.25 270.5 L488.1 271.5 L508.1 270 L513.6 264.25" fill="none" stroke="#161616" stroke-width="0.7"/>
<path d="M473.75 264.25 L488.1 265.5 L508.1 263.6 L514.6 260.5" fill="none" stroke="#161616" stroke-width="0.65"/>
<path d="M513.3 88.75 L513.3 264.25" fill="none" stroke="#161616" stroke-width="0.7"/>
<path d="M513.6 88.75 L515.4 92.5 L515.4 127.3 L508.1 130.6" fill="none" stroke="#161616" stroke-width="0.7"/>
<path d="M488.1 81.5 L488.1 271.5" fill="none" stroke="#161616" stroke-width="0.65"/>
<path d="M490 81.7 L490 271.3" fill="none" stroke="#888" stroke-width="0.4"/>
<path d="M508.1 83 L508.1 270" fill="none" stroke="#161616" stroke-width="0.6"/>
<path d="M511.6 131 L511.6 262" fill="none" stroke="#999" stroke-width="0.35"/>
<path d="M428.1 112 L514 112" fill="none" stroke="#161616" stroke-width="0.65"/>
<path d="M428.1 241.7 L514 241.7" fill="none" stroke="#161616" stroke-width="0.65"/>
<path d="M486.5 176.5 L489.8 176.5" fill="none" stroke="#161616" stroke-width="0.5"/>
<path d="M512.3 173.5 L512.3 179.5" fill="none" stroke="#161616" stroke-width="0.9"/>
<path d="M428.1 112 L428.1 241.7" fill="none" stroke="#161616" stroke-width="0.6"/>
<path d="M472.3 126.4 L425.3 125.7 L423.9 136.7 L472.3 136 L472.3 126.4" fill="none" stroke="#161616" stroke-width="0.65"/>
<path d="M472.3 141.4 L421.6 140.7 L420.2 152.3 L472.3 151.6 L472.3 141.4" fill="none" stroke="#161616" stroke-width="0.65"/>
<path d="M472.3 156.6 L420 155.9 L419.3 167.3 L472.3 166.6 L472.3 156.6" fill="none" stroke="#161616" stroke-width="0.65"/>
<path d="M472.3 171.8 L419.3 171.1 L419.3 182.5 L472.3 181.8 L472.3 171.8" fill="none" stroke="#161616" stroke-width="0.65"/>
<path d="M472.3 187 L419.3 186.3 L420 197.7 L472.3 197 L472.3 187" fill="none" stroke="#161616" stroke-width="0.65"/>
<path d="M472.3 202.2 L420.2 201.5 L421.6 212.9 L472.3 212.2 L472.3 202.2" fill="none" stroke="#161616" stroke-width="0.65"/>
<path d="M472.3 217.8 L423.9 217.1 L425.3 228.1 L472.3 227.4 L472.3 217.8" fill="none" stroke="#161616" stroke-width="0.65"/>
<path d="M428.1 119.8 L472.3 119.8 L472.3 112" fill="none" stroke="#161616" stroke-width="0.65"/>
<path d="M437.5 119.8 L457.5 112" fill="none" stroke="#161616" stroke-width="0.65"/>
<path d="M428.1 233.7 L472.3 233.7 L472.3 241.7" fill="none" stroke="#161616" stroke-width="0.65"/>
<path d="M437.5 233.7 L457.5 241.7" fill="none" stroke="#161616" stroke-width="0.65"/>
<path d="M441.9 93.6 C442.35 93.77 443.95 93.9 444.6 94.6 C445.25 95.3 445.83 96.73 445.8 97.8 C445.77 98.87 445.37 100.23 444.4 101 C443.43 101.77 441.98 101.63 440 102.4 C438.02 103.17 434.58 104.12 432.5 105.6 C430.42 107.07 428.96 108.85 427.5 111.25 C426.04 113.65 425 116.46 423.75 120 C422.5 123.54 421.14 127.5 420 132.5 C418.86 137.5 417.67 144.92 416.9 150 C416.13 155.08 415.72 158.58 415.4 163 C415.08 167.42 415 172 415 176.5 C415 181 415.08 185.58 415.4 190 C415.72 194.42 416.13 197.92 416.9 203 C417.67 208.08 418.86 215.5 420 220.5 C421.14 225.5 422.5 229.46 423.75 233 C425 236.54 426.04 239.35 427.5 241.75 C428.96 244.15 430.42 245.93 432.5 247.4 C434.58 248.88 438.02 249.83 440 250.6 C441.98 251.37 443.43 251.23 444.4 252 C445.37 252.77 445.77 254.13 445.8 255.2 C445.83 256.27 445.25 257.7 444.6 258.4 C443.95 259.1 442.35 259.23 441.9 259.4" fill="none" stroke="#161616" stroke-width="0.75"/>
<path d="M438.5 103.4 C437.67 103.93 435.03 105.17 433.5 106.6 C431.97 108.03 430.62 109.6 429.3 112 C427.98 114.4 426.82 117.5 425.6 121 C424.38 124.5 423.07 128.17 422 133 C420.93 137.83 419.92 145 419.2 150 C418.48 155 418.02 158.58 417.7 163 C417.38 167.42 417.3 172 417.3 176.5 C417.3 181 417.38 185.58 417.7 190 C418.02 194.42 418.48 198 419.2 203 C419.92 208 420.93 215.17 422 220 C423.07 224.83 424.38 228.5 425.6 232 C426.82 235.5 427.98 238.6 429.3 241 C430.62 243.4 431.97 244.97 433.5 246.4 C435.03 247.83 437.67 249.07 438.5 249.6" fill="none" stroke="#161616" stroke-width="0.55"/>
<path d="M441.9 93.6 L429 94.3" fill="none" stroke="#161616" stroke-width="0.6"/>
<path d="M441.9 259.4 L432 258.4" fill="none" stroke="#161616" stroke-width="0.6"/>
<path d="M441.3 93.7 L441.3 102.2" fill="none" stroke="#161616" stroke-width="0.5"/>
<path d="M441.3 259.3 L441.3 250.8" fill="none" stroke="#161616" stroke-width="0.5"/>
<path d="M473.75 85.2 C469.79 85.22 456.04 85.22 450 85.3 C443.96 85.38 441.46 85.32 437.5 85.7 C433.54 86.08 429.79 86.37 426.25 87.6 C422.71 88.83 419.58 90.62 416.25 93.1 C412.92 95.58 409.38 98.85 406.25 102.5 C403.12 106.15 400 110.62 397.5 115 C395 119.38 392.87 125.17 391.25 128.75 C389.63 132.33 388.38 135.21 387.8 136.5" fill="none" stroke="#141414" stroke-width="1.1"/>
<path d="M473.75 88.75 C469.79 88.96 455.62 89.42 450 90 C444.38 90.58 443.54 91.47 440 92.2 C436.46 92.93 432.08 93.31 428.75 94.4 C425.42 95.49 422.92 96.57 420 98.75 C417.08 100.93 413.75 104.38 411.25 107.5 C408.75 110.62 406.61 114.25 405 117.5 C403.39 120.75 402.4 123.75 401.6 127 C400.8 130.25 400.67 133.17 400.2 137 C399.73 140.83 399.17 143.25 398.8 150 C398.43 156.75 398.03 169.17 398 177.5 C397.97 185.83 398.27 192.92 398.6 200 C398.93 207.08 399.35 214.5 400 220 C400.65 225.5 402.08 230.83 402.5 233" fill="none" stroke="#161616" stroke-width="0.7"/>
<path d="M473.75 85.98 C470.39 86.03 455.06 86.17 450 86.33 C444.94 86.5 441.34 86.74 438.05 87.13 C434.76 87.52 429.77 88.07 426.8 89.1 C423.83 90.12 419.83 92.29 417.08 94.34 C414.32 96.4 409.89 100.6 407.35 103.6 C404.81 106.6 401.11 112.04 399.15 115.55 C397.19 119.06 394.71 125.38 393.53 128.37 C392.35 131.35 391.24 133.97 390.81 136.61 C390.39 139.25 390.54 142.27 390.5 147 C390.46 151.73 390.5 162.49 390.5 170 C390.5 177.51 390.5 192.07 390.5 200 C390.5 207.93 390.5 222.32 390.5 226" fill="none" stroke="#161616" stroke-width="0.7"/>
<path d="M473.75 86.83 C470.39 86.92 454.97 87.2 450 87.46 C445.03 87.73 441.85 88.23 438.65 88.69 C435.45 89.15 430.33 89.74 427.4 90.73 C424.47 91.72 420.65 93.71 417.98 95.7 C415.3 97.69 410.96 101.9 408.55 104.8 C406.14 107.7 402.73 112.87 400.95 116.15 C399.17 119.43 397.06 125.03 396.01 127.95 C394.96 130.86 393.98 134.03 393.55 136.73 C393.13 139.43 393.08 142.29 393 147 C392.92 151.71 393 162.49 393 170 C393 177.51 393 191.87 393 200 C393 208.13 393 223.52 393 227.4" fill="none" stroke="#161616" stroke-width="0.65"/>
<path d="M473.75 87.79 C470.39 87.92 454.88 88.36 450 88.73 C445.12 89.11 442.43 89.9 439.32 90.44 C436.22 90.99 430.96 91.6 428.08 92.56 C425.19 93.52 421.56 95.3 418.99 97.22 C416.41 99.15 412.17 103.37 409.9 106.15 C407.63 108.93 404.55 113.8 402.97 116.82 C401.4 119.85 399.75 124.63 398.81 127.47 C397.86 130.31 396.8 134.1 396.28 136.87 C395.75 139.63 395.27 142.31 395.1 147 C394.93 151.69 395.1 162.49 395.1 170 C395.1 177.51 395.1 191.7 395.1 200 C395.1 208.3 395.1 224.55 395.1 228.6" fill="none" stroke="#161616" stroke-width="0.55"/>
<path d="M391.7 139 L391.7 226.6" fill="none" stroke="#161616" stroke-width="0.7"/>
<path d="M431 96.4 C429.5 97.17 424.92 98.82 422 101 C419.08 103.18 415.9 106.42 413.5 109.5 C411.1 112.58 409.12 116.25 407.6 119.5 C406.08 122.75 405.1 126.08 404.4 129 C403.7 131.92 403.77 133.5 403.4 137 C403.03 140.5 402.48 143.25 402.2 150 C401.92 156.75 401.68 169.17 401.7 177.5 C401.72 185.83 401.93 192.92 402.3 200 C402.67 207.08 403.25 214.17 403.9 220 C404.55 225.83 405.82 232.5 406.2 235" fill="none" stroke="#161616" stroke-width="0.6"/>
<path d="M387.8 136.5 C387.2 137.5 385.43 138.79 384.2 142.5 C382.97 146.21 381.43 152.92 380.4 158.75 C379.37 164.58 378.63 171.29 378 177.5 C377.37 183.71 376.93 188.42 376.6 196 C376.27 203.58 376.1 218.5 376 223" fill="none" stroke="#161616" stroke-width="0.7"/>
<path d="M385.5 146 C384.92 148.33 382.98 154.67 382 160 C381.02 165.33 380.23 172 379.6 178 C378.97 184 378.53 188.5 378.2 196 C377.87 203.5 377.7 218.5 377.6 223" fill="none" stroke="#161616" stroke-width="0.55"/>
<path d="M383.2 137.8 L386.2 135.4 L388.4 137.2 L387.2 141.8 L384.6 144.6 L383 142 L383.2 137.8" fill="none" stroke="#161616" stroke-width="0.6"/>
<path d="M384.2 139.2 L386.8 137.6" fill="none" stroke="#161616" stroke-width="0.5"/>
<path d="M384 141.6 L386.9 139.6" fill="none" stroke="#161616" stroke-width="0.5"/>
<path d="M390.4 226 C391.33 226.5 394.23 227.92 396 229 C397.77 230.08 398.5 230.67 401 232.5 C403.5 234.33 407.42 236.67 411 240 C414.58 243.33 419.33 248.75 422.5 252.5 C425.67 256.25 428 260.2 430 262.5 C432 264.8 431.17 265.72 434.5 266.3 C437.83 266.88 443.04 265.78 450 266 C456.96 266.22 471.88 267.33 476.25 267.6" fill="none" stroke="#141414" stroke-width="1.1"/>
<path d="M393.2 227.5 C394.75 228.42 399.28 230.83 402.5 233 C405.72 235.17 408.92 237.25 412.5 240.5 C416.08 243.75 420.83 249 424 252.5 C427.17 256 429.5 259.53 431.5 261.5 C433.5 263.47 432.92 263.92 436 264.3 C439.08 264.68 443.29 263.58 450 263.8 C456.71 264.02 471.88 265.3 476.25 265.6" fill="none" stroke="#161616" stroke-width="0.6"/>
<path d="M391.8 226.75 C393.04 227.46 396.76 229.38 399.25 231 C401.74 232.62 403.71 233.96 406.75 236.5 C409.79 239.04 414.12 242.83 417.5 246.25 C420.88 249.67 424.42 254.14 427 257 C429.58 259.86 430.46 262.06 433 263.4 C435.54 264.74 437.23 264.65 442.25 265.05 C447.27 265.45 459.65 265.68 463.12 265.8" fill="none" stroke="#161616" stroke-width="0.5"/>
<path d="M430.4 277.5 C431 277.02 432.4 275.42 434 274.6 C435.6 273.78 436 273.2 440 272.6 C444 272 451.96 271.37 458 271 C464.04 270.63 473.21 270.5 476.25 270.4" fill="none" stroke="#161616" stroke-width="0.7"/>
<path d="M433 269.5 C435 269.35 437.79 268.68 445 268.6 C452.21 268.52 471.04 268.93 476.25 269" fill="none" stroke="#161616" stroke-width="0.5"/>
<path d="M378.79 248.82 L380.34 247.83 L381.95 246.92 L383.6 246.1 L385.29 245.38 L387.03 244.75 L388.79 244.21 L390.58 243.78 L392.4 243.44 L394.23 243.21 L396.07 243.08 L397.91 243.05 L399.75 243.13 L401.59 243.3 L403.41 243.58 L405.22 243.96 L407 244.44 L408.75 245.01 L410.46 245.69 L412.14 246.45 L413.77 247.31 L415.35 248.26 L416.88 249.29 L418.35 250.41 L419.75 251.61 L421.08 252.88 L422.34 254.23 L423.53 255.64 L424.63 257.12 L425.65 258.65 L426.59 260.24 L427.43 261.88 L428.18 263.57 L428.84 265.29 L429.4 267.05 L429.86 268.83 L430.22 270.64 L430.48 272.46 L430.64 274.3 L430.7 276.14 L430.65 277.99" fill="none" stroke="#161616" stroke-width="0.7"/>
<path d="M374.5 308.75 L374.9 276.25 L374.9 276.25 L374.96 274.58 L375.15 272.91 L375.46 271.26 L375.89 269.64 L376.44 268.06 L377.1 266.52 L377.88 265.04 L378.76 263.61 L379.75 262.26 L380.84 260.98 L382.01 259.79 L383.28 258.69 L384.62 257.68 L386.03 256.78 L387.5 255.98 L389.03 255.3 L390.61 254.73 L392.22 254.27 L393.87 253.94 L395.53 253.74 L397.2 253.65 L398.88 253.69 L400.55 253.86 L402.2 254.14 L403.82 254.55 L405.41 255.08 L406.96 255.73 L408.46 256.48 L409.89 257.35 L411.26 258.32 L412.55 259.39 L413.76 260.55 L414.88 261.8 L415.9 263.13 L416.82 264.53 L417.64 265.99 L418.34 267.51 L418.93 269.08 L419.4 270.69 L419.76 272.33 L420 280 L421.3 308.75" fill="none" stroke="#161616" stroke-width="0.75"/>
<path d="M376.4 308.75 L376.8 276.25 L376.8 276.25 L376.83 275.17 L376.91 274.09 L377.05 273.01 L377.25 271.95 L377.51 270.89 L377.81 269.85 L378.17 268.83 L378.59 267.83 L379.06 266.85 L379.57 265.9 L380.14 264.98 L380.75 264.08 L381.41 263.22 L382.12 262.4 L382.86 261.61 L383.65 260.87 L384.47 260.16 L385.33 259.5 L386.23 258.89 L387.15 258.32 L388.1 257.81 L389.08 257.34 L390.08 256.92 L391.1 256.56 L392.14 256.26 L393.2 256 L394.26 255.8 L395.34 255.66 L396.42 255.58 L397.5 255.55 L398.58 255.58 L399.66 255.66 L400.74 255.8 L401.8 256 L402.86 256.26 L403.9 256.56 L404.92 256.92 L405.92 257.34 L406.9 257.81 L407.85 258.32" fill="none" stroke="#161616" stroke-width="0.5"/>
<path d="M376.94 266.79 L375.62 265.86 L376.65 263.92 L378.16 264.49" fill="none" stroke="#161616" stroke-width="0.55"/>
<path d="M383.47 258.48 L382.72 257.06 L384.52 255.8 L385.6 256.99" fill="none" stroke="#161616" stroke-width="0.55"/>
<path d="M396.2 253.65 L396.4 252.05 L398.6 252.05 L398.8 253.65" fill="none" stroke="#161616" stroke-width="0.55"/>
<path d="M409.4 256.99 L410.48 255.8 L412.28 257.06 L411.53 258.48" fill="none" stroke="#161616" stroke-width="0.55"/>
<path d="M416.84 264.49 L418.35 263.92 L419.38 265.86 L418.06 266.79" fill="none" stroke="#161616" stroke-width="0.55"/>
<path d="M371.3 308.75 L423.1 308.75" fill="none" stroke="#161616" stroke-width="0.7"/>
<path d="M371.3 308.75 L371.3 314 Q371.6 317.6 377.5 318.1 L418 318.1 Q422.8 317.6 423.1 314 L423.1 308.75" fill="none" stroke="#161616" stroke-width="0.7"/>
<path d="M374.4 308.75 Q374.2 316 378.3 318.1" fill="none" stroke="#161616" stroke-width="0.55"/>
<path d="M421.3 308.75 Q421.6 316 417.2 318.1" fill="none" stroke="#161616" stroke-width="0.55"/>
<path d="M372.7 309 L372.7 315.6" fill="none" stroke="#161616" stroke-width="0.45"/>
<path d="M421.9 309 L421.9 315.6 M422.5 309 L422.5 315" fill="none" stroke="#161616" stroke-width="0.45"/>
<path d="M411.9 276.25 L404.7 288.72 L390.3 288.72 L383.1 276.25 L390.3 263.78 L404.7 263.78Z" fill="none" stroke="#161616" stroke-width="0.8"/>
<circle cx="397.5" cy="276.25" r="12.7" fill="none" stroke="#161616" stroke-width="0.5"/>
<path d="M397.5 251.5 L397.5 304.5" fill="none" stroke="#161616" stroke-width="0.5" stroke-dasharray="11 2 2 2"/>
<path d="M369.4 276.25 L420.5 276.25" fill="none" stroke="#161616" stroke-width="0.5" stroke-dasharray="11 2 2 2"/>
<path d="M378.8 223.3 L372.4 223.3 L371 224.8 L371 237.6 L369 238.6 L369 250.8 L371 251.8 L371 260.2 L372.4 261.7 L378.8 261.7" fill="none" stroke="#161616" stroke-width="0.7"/>
<path d="M378.8 223.3 L378.8 261.7" fill="none" stroke="#161616" stroke-width="0.7"/>
<path d="M371.2 226.6 L376.4 226.6" fill="none" stroke="#161616" stroke-width="0.5"/>
<path d="M371.2 229.8 L376.4 229.8" fill="none" stroke="#161616" stroke-width="0.5"/>
<path d="M371.2 232.6 L376.4 232.6" fill="none" stroke="#161616" stroke-width="0.5"/>
<path d="M371.2 235.6 L376.4 235.6" fill="none" stroke="#161616" stroke-width="0.5"/>
<path d="M371.2 253.6 L376.4 253.6" fill="none" stroke="#161616" stroke-width="0.5"/>
<path d="M371.2 256.4 L376.4 256.4" fill="none" stroke="#161616" stroke-width="0.5"/>
<path d="M371.2 259 L376.4 259" fill="none" stroke="#161616" stroke-width="0.5"/>
<path d="M376.4 224 L376.4 261.4" fill="none" stroke="#161616" stroke-width="0.55"/>
<path d="M375 238.6 L375 250.8" fill="none" stroke="#161616" stroke-width="0.55"/>
<path d="M369 238.6 L375 238.6" fill="none" stroke="#161616" stroke-width="0.55"/>
<path d="M369 250.8 L375 250.8" fill="none" stroke="#161616" stroke-width="0.55"/>
<path d="M372.6 251.6 L372.6 254.6" fill="none" stroke="#161616" stroke-width="0.8"/>
<path d="M372.4 232.8 L372.4 237.4" fill="none" stroke="#161616" stroke-width="0.8"/>
<path d="M306.25 204.84 C307.66 205.22 311.88 206.13 314.69 207.09 C317.5 208.05 320.55 209.25 323.12 210.61 C325.7 211.97 327.81 213.61 330.16 215.25 C332.5 216.89 334.84 218.7 337.19 220.45 C339.53 222.21 341.88 224.09 344.22 225.8 C346.56 227.51 349.26 229.48 351.25 230.72 C353.24 231.96 354.53 232.55 356.17 233.25 C357.81 233.95 359.57 234.54 361.09 234.94 C362.62 235.34 363.98 235.5 365.31 235.64 C366.65 235.78 368.48 235.76 369.11 235.78" fill="none" stroke="#161616" stroke-width="0.7"/>
<path d="M301.33 215.39 C302.62 215.93 306.6 217.43 309.06 218.62 C311.52 219.82 313.75 221.11 316.09 222.56 C318.44 224.02 320.78 225.7 323.12 227.34 C325.47 228.98 327.81 230.72 330.16 232.41 C332.5 234.09 335.08 235.99 337.19 237.47 C339.3 238.95 340.94 240.14 342.81 241.27 C344.69 242.39 346.56 243.4 348.44 244.22 C350.31 245.04 351.95 245.67 354.06 246.19 C356.17 246.7 358.59 247.05 361.09 247.31 C363.6 247.57 367.77 247.66 369.11 247.73" fill="none" stroke="#161616" stroke-width="0.7"/>
<path d="M306.25 204.84 L301.33 215.39" fill="none" stroke="#161616" stroke-width="0.7"/>
<path d="M389.5 318.1 L389.5 370.6 Q389.6 372.6 391.6 372.6 L403.6 372.6 Q405.6 372.6 405.7 370.6 L405.7 318.1" fill="none" stroke="#161616" stroke-width="0.7"/>
<path d="M390.9 319 L390.9 371.5" fill="none" stroke="#777" stroke-width="0.4"/>
<path d="M404.3 319 L404.3 371.5" fill="none" stroke="#777" stroke-width="0.4"/>
<path d="M397.5 337.5 L397.5 378" fill="none" stroke="#161616" stroke-width="0.5" stroke-dasharray="11 2 2 2"/>
<path d="M373.1 58.8 L373.1 222" fill="none" stroke="#161616" stroke-width="0.6"/>
<path d="M514.6 65 L514.6 383.5" fill="none" stroke="#161616" stroke-width="0.6"/>
<path d="M373.1 63 L514.6 63" fill="none" stroke="#161616" stroke-width="0.6"/>
<path d="M373.1 63 L386.3 60.5 L386.3 65.5Z" fill="#111"/>
<path d="M514.6 63 L501.4 65.5 L501.4 60.5Z" fill="#111"/>
<text x="444.3" y="57.6" font-size="16" text-anchor="middle" font-weight="normal" fill="#1a1a1a" stroke="#1a1a1a" stroke-width="0.25">74</text>
<path d="M490 82 L560 82" fill="none" stroke="#161616" stroke-width="0.6"/>
<path d="M418 318 L562 318" fill="none" stroke="#161616" stroke-width="0.6"/>
<path d="M557.4 82 L557.4 318" fill="none" stroke="#161616" stroke-width="0.6"/>
<path d="M557.4 82 L559.9 95.2 L554.9 95.2Z" fill="#111"/>
<path d="M557.4 318 L554.9 304.8 L559.9 304.8Z" fill="#111"/>
<text x="552.6" y="199.2" font-size="16" text-anchor="middle" font-weight="normal" fill="#1a1a1a" transform="rotate(-90 552.6 199.2)" stroke="#1a1a1a" stroke-width="0.25">123</text>
<path d="M397.5 376 L397.5 384.5" fill="none" stroke="#161616" stroke-width="0.6"/>
<path d="M397.5 381.3 L514.6 381.3" fill="none" stroke="#161616" stroke-width="0.6"/>
<path d="M397.5 381.3 L410.7 378.8 L410.7 383.8Z" fill="#111"/>
<path d="M514.6 381.3 L501.4 383.8 L501.4 378.8Z" fill="#111"/>
<text x="457.4" y="375.6" font-size="16" text-anchor="middle" font-weight="normal" fill="#1a1a1a" stroke="#1a1a1a" stroke-width="0.25">60</text>
<path d="M511.69 29.46 L513.46 29.59 L515.24 29.75 L517.01 29.95 L518.77 30.19 L520.53 30.47 L522.28 30.78 L524.03 31.13 L525.77 31.51 L527.49 31.93 L529.22 32.39 L530.93 32.89 L532.63 33.41 L534.31 33.98 L535.99 34.58 L537.65 35.21 L539.3 35.88 L540.94 36.59 L542.56 37.33 L544.16 38.1 L545.75 38.9 L547.32 39.74 L548.87 40.61 L550.41 41.52 L551.92 42.45 L553.41 43.42 L554.89 44.42 L556.34 45.45 L557.77 46.51 L559.18 47.59 L560.57 48.71" fill="none" stroke="#161616" stroke-width="0.6"/>
<path d="M577.13 67.01 L578.02 68.37 L578.89 69.74 L579.72 71.13 L580.53 72.54 L581.32 73.96 L582.07 75.39 L582.8 76.84 L583.5 78.31 L584.18 79.78 L584.82 81.27 L585.44 82.77 L586.02 84.28 L586.58 85.81 L587.11 87.34 L587.61 88.88 L588.08 90.43 L588.52 91.99 L588.93 93.56 L589.31 95.14 L589.66 96.72 L589.98 98.31 L590.27 99.91 L590.53 101.51 L590.76 103.12 L590.96 104.73 L591.13 106.34 L591.26 107.96 L591.37 109.57 L591.44 111.2 L591.49 112.82" fill="none" stroke="#161616" stroke-width="0.6"/>
<path d="M499.4 29.5 L512.54 25.86 L512.25 34.05Z" fill="#111"/>
<path d="M591.4 124.6 L587.32 111.93 L595.92 112.08Z" fill="#111"/>
<text x="569.9" y="62.8" font-size="14" text-anchor="middle" font-weight="normal" fill="#1a1a1a" stroke="#1a1a1a" stroke-width="0.25">155°</text>
<path d="M416.3 456.6 L472.5 447.7 L489.4 446.4 L508.1 448.75 L515.2 454.4 L515.2 491.9 L509.6 495.6" fill="none" stroke="#161616" stroke-width="0.7"/>
<path d="M416.3 626 L472.5 634.9 L489.4 636.2 L508.1 633.85 L515.2 628.2 L515.2 590.7 L509.6 587" fill="none" stroke="#161616" stroke-width="0.7"/>
<path d="M472.5 453 L489.4 452 L508.1 454.4 L515.2 456.3" fill="none" stroke="#161616" stroke-width="0.6"/>
<path d="M472.5 629.6 L489.4 630.6 L508.1 628.2 L515.2 626.3" fill="none" stroke="#161616" stroke-width="0.6"/>
<path d="M472.5 447.7 L472.5 453" fill="none" stroke="#161616" stroke-width="0.6"/>
<path d="M472.5 634.9 L472.5 629.6" fill="none" stroke="#161616" stroke-width="0.6"/>
<path d="M489.4 446.4 L489.4 636.2" fill="none" stroke="#161616" stroke-width="0.65"/>
<path d="M510 449.3 L510 633.3" fill="none" stroke="#161616" stroke-width="0.6"/>
<path d="M513.1 493.6 L513.1 589" fill="none" stroke="#161616" stroke-width="0.6"/>
<path d="M431 476.5 L445 476.2 L515.2 476.2" fill="none" stroke="#161616" stroke-width="0.6"/>
<path d="M431 606.1 L445 606.4 L515.2 606.4" fill="none" stroke="#161616" stroke-width="0.6"/>
<path d="M487.2 541.3 L491.6 541.3" fill="none" stroke="#161616" stroke-width="0.5"/>
<path d="M489.4 539.1 L489.4 543.5" fill="none" stroke="#161616" stroke-width="0.5"/>
<path d="M510.6 541.3 L513.6 541.3" fill="none" stroke="#161616" stroke-width="0.5"/>
<path d="M512.2 538.3 L512.2 544.3" fill="none" stroke="#161616" stroke-width="0.8"/>
<path d="M419.9 456.07 L472.5 448.23" fill="none" stroke="#333" stroke-width="0.7"/>
<path d="M419.9 626.52 L472.5 634.37" fill="none" stroke="#333" stroke-width="0.7"/>
<path d="M420.98 456.11 L472.5 448.87" fill="none" stroke="#333" stroke-width="0.8"/>
<path d="M420.98 626.49 L472.5 633.73" fill="none" stroke="#333" stroke-width="0.8"/>
<path d="M422.06 456.13 L472.5 449.5" fill="none" stroke="#333" stroke-width="0.9"/>
<path d="M422.06 626.46 L472.5 633.1" fill="none" stroke="#333" stroke-width="0.9"/>
<path d="M423.14 456.17 L472.5 450.14" fill="none" stroke="#333" stroke-width="0.9"/>
<path d="M423.14 626.43 L472.5 632.46" fill="none" stroke="#333" stroke-width="0.9"/>
<path d="M424.22 456.19 L472.5 450.77" fill="none" stroke="#333" stroke-width="0.8"/>
<path d="M424.22 626.4 L472.5 631.83" fill="none" stroke="#333" stroke-width="0.8"/>
<path d="M425.3 456.23 L472.5 451.41" fill="none" stroke="#333" stroke-width="0.7"/>
<path d="M425.3 626.37 L472.5 631.19" fill="none" stroke="#333" stroke-width="0.7"/>
<path d="M426.65 456.26 L472.5 452.2" fill="none" stroke="#333" stroke-width="0.6"/>
<path d="M426.65 626.34 L472.5 630.39" fill="none" stroke="#333" stroke-width="0.6"/>
<path d="M417 457.8 L472.5 453" fill="none" stroke="#161616" stroke-width="0.6"/>
<path d="M417 624.8 L472.5 629.6" fill="none" stroke="#161616" stroke-width="0.6"/>
<path d="M421.5 455.8 L421.5 457.6 L428.5 457.9 L428.5 455" fill="none" stroke="#161616" stroke-width="0.5"/>
<path d="M421.5 626.8 L421.5 625 L428.5 624.7 L428.5 627.6" fill="none" stroke="#161616" stroke-width="0.5"/>
<path d="M430.6 470.25 C428.24 470.27 407.59 470.09 404.9 470.45 C402.21 470.81 401.57 473.54 401.3 474.15 C401.03 474.75 399.21 476.77 401.9 477.05 C404.59 477.33 427.97 477.23 430.6 477.25" fill="none" stroke="#161616" stroke-width="0.7"/>
<path d="M404.5 470.85 L402.9 475.45 L430 475.25" fill="none" stroke="#555" stroke-width="0.45"/>
<path d="M412.3 470.45 L407.3 475.25" fill="none" stroke="#161616" stroke-width="0.45"/>
<path d="M418.3 470.45 L412.3 475.25" fill="none" stroke="#161616" stroke-width="0.45"/>
<path d="M432.2 470.05 Q426.4 473.75 432.2 477.45" fill="none" stroke="#161616" stroke-width="0.7"/>
<path d="M430.6 489.55 C427.33 489.57 398.5 489.39 394.9 489.75 C391.3 490.11 391.57 492.84 391.3 493.45 C391.03 494.05 388.3 496.07 391.9 496.35 C395.5 496.63 427.05 496.53 430.6 496.55" fill="none" stroke="#161616" stroke-width="0.7"/>
<path d="M394.5 490.15 L392.9 494.75 L430 494.55" fill="none" stroke="#555" stroke-width="0.45"/>
<path d="M402.3 489.75 L397.3 494.55" fill="none" stroke="#161616" stroke-width="0.45"/>
<path d="M408.3 489.75 L402.3 494.55" fill="none" stroke="#161616" stroke-width="0.45"/>
<path d="M432.2 489.35 Q426.4 493.05 432.2 496.75" fill="none" stroke="#161616" stroke-width="0.7"/>
<path d="M430.6 508.85 L375.2 508.85" fill="none" stroke="#161616" stroke-width="0.7"/>
<path d="M430.6 515.85 L376.2 515.85" fill="none" stroke="#161616" stroke-width="0.7"/>
<path d="M432.2 508.65 Q426.4 512.35 432.2 516.05" fill="none" stroke="#161616" stroke-width="0.7"/>
<path d="M430.6 528.15 L379.3 528.55 Q375.1 531.65 379.3 534.75 L430.6 535.15" fill="none" stroke="#161616" stroke-width="0.7"/>
<path d="M383 528.55 L383 534.75" fill="none" stroke="#161616" stroke-width="0.5"/>
<path d="M385.6 528.55 L385.6 534.75" fill="none" stroke="#161616" stroke-width="0.5"/>
<path d="M389.4 528.55 L389.4 534.75" fill="none" stroke="#161616" stroke-width="0.5"/>
<path d="M378 531.65 L383 531.65" fill="none" stroke="#666" stroke-width="0.4"/>
<path d="M432.2 527.95 Q426.4 531.65 432.2 535.35" fill="none" stroke="#161616" stroke-width="0.7"/>
<path d="M430.6 547.45 L379.3 547.85 Q375.1 550.95 379.3 554.05 L430.6 554.45" fill="none" stroke="#161616" stroke-width="0.7"/>
<path d="M383 547.85 L383 554.05" fill="none" stroke="#161616" stroke-width="0.5"/>
<path d="M385.6 547.85 L385.6 554.05" fill="none" stroke="#161616" stroke-width="0.5"/>
<path d="M389.4 547.85 L389.4 554.05" fill="none" stroke="#161616" stroke-width="0.5"/>
<path d="M378 550.95 L383 550.95" fill="none" stroke="#666" stroke-width="0.4"/>
<path d="M432.2 547.25 Q426.4 550.95 432.2 554.65" fill="none" stroke="#161616" stroke-width="0.7"/>
<path d="M430.6 566.75 L375.2 566.75" fill="none" stroke="#161616" stroke-width="0.7"/>
<path d="M430.6 573.75 L376.2 573.75" fill="none" stroke="#161616" stroke-width="0.7"/>
<path d="M432.2 566.55 Q426.4 570.25 432.2 573.95" fill="none" stroke="#161616" stroke-width="0.7"/>
<path d="M430.6 586.05 C427.05 586.07 395.5 585.97 391.9 586.25 C388.3 586.53 391.03 588.54 391.3 589.15 C391.57 589.75 391.3 592.49 394.9 592.85 C398.5 593.21 427.33 593.03 430.6 593.05" fill="none" stroke="#161616" stroke-width="0.7"/>
<path d="M394.5 592.45 L392.9 587.85 L430 588.05" fill="none" stroke="#555" stroke-width="0.45"/>
<path d="M402.3 592.85 L397.3 588.05" fill="none" stroke="#161616" stroke-width="0.45"/>
<path d="M408.3 592.85 L402.3 588.05" fill="none" stroke="#161616" stroke-width="0.45"/>
<path d="M432.2 585.85 Q426.4 589.55 432.2 593.25" fill="none" stroke="#161616" stroke-width="0.7"/>
<path d="M430.6 605.35 C427.97 605.37 404.59 605.27 401.9 605.55 C399.21 605.83 401.03 607.84 401.3 608.45 C401.57 609.05 402.21 611.79 404.9 612.15 C407.59 612.51 428.24 612.33 430.6 612.35" fill="none" stroke="#161616" stroke-width="0.7"/>
<path d="M404.5 611.75 L402.9 607.15 L430 607.35" fill="none" stroke="#555" stroke-width="0.45"/>
<path d="M412.3 612.15 L407.3 607.35" fill="none" stroke="#161616" stroke-width="0.45"/>
<path d="M418.3 612.15 L412.3 607.35" fill="none" stroke="#161616" stroke-width="0.45"/>
<path d="M432.2 605.15 Q426.4 608.85 432.2 612.55" fill="none" stroke="#161616" stroke-width="0.7"/>
<path d="M431.6 457.95 Q434 458.15 437.6 459.3 L441.2 459.4 C447.2 459.7 447.2 468.5 441.2 468.8 L437.6 468.9 Q434 470.05 431.6 470.25" fill="none" stroke="#161616" stroke-width="0.7"/>
<path d="M431.6 477.25 Q434 477.45 437.6 478.6 L441.2 478.7 C447.2 479 447.2 487.8 441.2 488.1 L437.6 488.2 Q434 489.35 431.6 489.55" fill="none" stroke="#161616" stroke-width="0.7"/>
<path d="M445 479.2 L474 479.6 L474.6 487.2 L445 487.6" fill="none" stroke="#161616" stroke-width="0.65"/>
<path d="M469.4 479.5 L469.6 487.3" fill="none" stroke="#161616" stroke-width="0.55"/>
<path d="M431.6 496.55 Q434 496.75 437.6 497.9 L441.2 498 C447.2 498.3 447.2 507.1 441.2 507.4 L437.6 507.5 Q434 508.65 431.6 508.85" fill="none" stroke="#161616" stroke-width="0.7"/>
<path d="M445 498.5 L474 498.9 L474.6 506.5 L445 506.9" fill="none" stroke="#161616" stroke-width="0.65"/>
<path d="M469.4 498.8 L469.6 506.6" fill="none" stroke="#161616" stroke-width="0.55"/>
<path d="M431.6 515.85 Q434 516.05 437.6 517.2 L441.2 517.3 C447.2 517.6 447.2 526.4 441.2 526.7 L437.6 526.8 Q434 527.95 431.6 528.15" fill="none" stroke="#161616" stroke-width="0.7"/>
<path d="M445 517.8 L474 518.2 L474.6 525.8 L445 526.2" fill="none" stroke="#161616" stroke-width="0.65"/>
<path d="M469.4 518.1 L469.6 525.9" fill="none" stroke="#161616" stroke-width="0.55"/>
<path d="M431.6 535.15 Q434 535.35 437.6 536.5 L441.2 536.6 C447.2 536.9 447.2 545.7 441.2 546 L437.6 546.1 Q434 547.25 431.6 547.45" fill="none" stroke="#161616" stroke-width="0.7"/>
<path d="M445 537.1 L474 537.5 L474.6 545.1 L445 545.5" fill="none" stroke="#161616" stroke-width="0.65"/>
<path d="M469.4 537.4 L469.6 545.2" fill="none" stroke="#161616" stroke-width="0.55"/>
<path d="M431.6 554.45 Q434 554.65 437.6 555.8 L441.2 555.9 C447.2 556.2 447.2 565 441.2 565.3 L437.6 565.4 Q434 566.55 431.6 566.75" fill="none" stroke="#161616" stroke-width="0.7"/>
<path d="M445 556.4 L474 556.8 L474.6 564.4 L445 564.8" fill="none" stroke="#161616" stroke-width="0.65"/>
<path d="M469.4 556.7 L469.6 564.5" fill="none" stroke="#161616" stroke-width="0.55"/>
<path d="M431.6 573.75 Q434 573.95 437.6 575.1 L441.2 575.2 C447.2 575.5 447.2 584.3 441.2 584.6 L437.6 584.7 Q434 585.85 431.6 586.05" fill="none" stroke="#161616" stroke-width="0.7"/>
<path d="M445 575.7 L474 576.1 L474.6 583.7 L445 584.1" fill="none" stroke="#161616" stroke-width="0.65"/>
<path d="M469.4 576 L469.6 583.8" fill="none" stroke="#161616" stroke-width="0.55"/>
<path d="M431.6 593.05 Q434 593.25 437.6 594.4 L441.2 594.5 C447.2 594.8 447.2 603.6 441.2 603.9 L437.6 604 Q434 605.15 431.6 605.35" fill="none" stroke="#161616" stroke-width="0.7"/>
<path d="M445 595 L474 595.4 L474.6 603 L445 603.4" fill="none" stroke="#161616" stroke-width="0.65"/>
<path d="M469.4 595.3 L469.6 603.1" fill="none" stroke="#161616" stroke-width="0.55"/>
<path d="M431.6 612.35 Q434 612.55 437.6 613.7 L441.2 613.8 C447.2 614.1 447.2 622.9 441.2 623.2 L437.6 623.3 Q434 624.45 431.6 624.65" fill="none" stroke="#161616" stroke-width="0.7"/>
<path d="M417 457.8 L420 458.4 L431.6 458.6" fill="none" stroke="#161616" stroke-width="0.65"/>
<path d="M417 624.8 L420 624.2 L431.6 624" fill="none" stroke="#161616" stroke-width="0.65"/>
<path d="M376 510.6 L370.6 510.6 L369.5 511.8 L369.5 522.2 L371 522.2" fill="none" stroke="#161616" stroke-width="0.65"/>
<path d="M376 572 L370.6 572 L369.5 570.8 L369.5 560.4 L371 560.4" fill="none" stroke="#161616" stroke-width="0.65"/>
<path d="M376 512.2 L373 512.2 Q371 512.2 371 514.4 L371 568.2 Q371 570.4 373 570.4 L376 570.4" fill="none" stroke="#161616" stroke-width="0.6"/>
<path d="M373 514.6 L373 568" fill="none" stroke="#161616" stroke-width="0.55"/>
<path d="M375.4 511.5 L375.4 571.1" fill="none" stroke="#161616" stroke-width="0.65"/>
<path d="M375.6 517.5 L408.1 517.5 L408.1 524 L409.6 527.6 L408.1 527.8 L408.1 541.3" fill="none" stroke="#161616" stroke-width="0.6"/>
<path d="M375.6 565.1 L408.1 565.1 L408.1 558.6 L409.6 555 L408.1 554.8 L408.1 541.3" fill="none" stroke="#161616" stroke-width="0.6"/>
<path d="M375.6 521.9 L408.1 521.9" fill="none" stroke="#161616" stroke-width="0.55"/>
<path d="M375.6 560.7 L408.1 560.7" fill="none" stroke="#161616" stroke-width="0.55"/>
<path d="M382.2 510.8 L388.2 510.8 L388.2 516 L382.2 516 L382.2 510.8 L388.2 516" fill="none" stroke="#161616" stroke-width="0.5"/>
<path d="M388.2 510.8 L382.2 516" fill="none" stroke="#161616" stroke-width="0.5"/>
<path d="M377 512.4 L382 513.4" fill="none" stroke="#161616" stroke-width="0.5"/>
<path d="M382.2 571.8 L388.2 571.8 L388.2 566.6 L382.2 566.6 L382.2 571.8 L388.2 566.6" fill="none" stroke="#161616" stroke-width="0.5"/>
<path d="M388.2 571.8 L382.2 566.6" fill="none" stroke="#161616" stroke-width="0.5"/>
<path d="M377 570.2 L382 569.2" fill="none" stroke="#161616" stroke-width="0.5"/>
<path d="M397.5 507.6 L421 507.8" fill="none" stroke="#666" stroke-width="0.45"/>
<path d="M397.5 575 L421 574.8" fill="none" stroke="#666" stroke-width="0.45"/>
<path d="M408.1 536.9 L443.5 536.9" fill="none" stroke="#161616" stroke-width="0.55"/>
<path d="M408.1 545.7 L443.5 545.7" fill="none" stroke="#161616" stroke-width="0.55"/>
<path d="M450 537.1 L450 545.5" fill="none" stroke="#161616" stroke-width="0.55"/>
<path d="M410 536.9 L410 545.7" fill="none" stroke="#161616" stroke-width="0.5"/>
<path d="M371 535.6 L304.2 535.6 M304.2 547.7 L371 547.7" fill="none" stroke="#161616" stroke-width="0.65"/>
<ellipse cx="304.2" cy="541.65" rx="3" ry="6.05" fill="none" stroke="#161616" stroke-width="0.6"/>
<path d="M502.78 419.88 L505.18 421.93 L507.53 424.03 L509.84 426.18 L512.11 428.37 L514.34 430.6 L516.52 432.88 L518.65 435.2 L520.74 437.57 L522.78 439.97 L524.77 442.42 L526.71 444.9 L528.61 447.42 L530.45 449.98 L532.24 452.58 L533.98 455.21 L535.67 457.87 L537.3 460.57 L538.88 463.3 L540.4 466.06 L541.87 468.85 L543.29 471.67 L544.64 474.52 L545.94 477.39 L547.19 480.29 L548.37 483.21 L549.5 486.16 L550.57 489.12 L551.57 492.11 L552.52 495.12 L553.41 498.14 L554.24 501.19 L555.01 504.25 L555.71 507.32 L556.36 510.41 L556.94 513.5 L557.47 516.61 L557.93 519.73 L558.32 522.86 L558.66 526 L558.93 529.14" fill="none" stroke="#161616" stroke-width="0.6"/>
<path d="M559.01 552.36 L558.76 555.53 L558.44 558.69 L558.06 561.85 L557.62 565 L557.11 568.14 L556.54 571.27 L555.91 574.39 L555.21 577.49 L554.45 580.58 L553.64 583.66 L552.75 586.71 L551.81 589.75 L550.81 592.77 L549.75 595.77 L548.62 598.75 L547.44 601.7 L546.2 604.63 L544.9 607.53 L543.54 610.41 L542.12 613.26 L540.65 616.08 L539.12 618.87 L537.54 621.63 L535.9 624.35 L534.2 627.04 L532.46 629.7 L530.66 632.33 L528.8 634.91 L526.9 637.46 L524.94 639.97 L522.94 642.44 L520.88 644.87 L518.78 647.25 L516.63 649.6 L514.43 651.9 L512.19 654.16 L509.9 656.37 L507.57 658.53 L505.2 660.65 L502.78 662.72" fill="none" stroke="#161616" stroke-width="0.6"/>
<path d="M495.4 414.6 L507.69 419.12 L502.41 425.66Z" fill="#111"/>
<path d="M495.4 668 L502.41 656.94 L507.69 663.48Z" fill="#111"/>
<text x="561.1" y="545.4" font-size="14" text-anchor="middle" font-weight="normal" fill="#1a1a1a" stroke="#1a1a1a" stroke-width="0.25">360°</text>
<defs><filter id="soft" x="-5%" y="-5%" width="110%" height="110%"><feGaussianBlur stdDeviation="0.35"/></filter></defs>
<g filter="url(#soft)">
<path d="M43.8 459.75 C45.12 456.65 49.33 451.52 53.1 447.75 C56.87 443.98 61.97 440.47 66.4 437.15 C70.83 433.83 75.27 430.73 79.7 427.85 C84.13 424.97 88.58 422.5 93 419.85 C97.42 417.2 101.78 414.6 106.2 411.95 C110.62 409.3 115.07 406.17 119.5 403.95 C123.93 401.73 128.59 399.75 132.8 398.65 C137.01 397.55 141.65 398.18 144.75 397.35 C147.85 396.52 148.96 394.32 151.4 393.65 C153.84 392.98 156.3 393.05 159.4 393.35 C162.5 393.65 165.57 394.92 170 395.45 C174.43 395.98 181.57 396.68 186 396.55 C190.43 396.42 193.73 395.18 196.6 394.65 C199.47 394.12 201 392.95 203.2 393.35 C205.4 393.75 206.48 395.95 209.8 397.05 C213.12 398.15 218.23 398.58 223.1 399.95 C227.97 401.32 233.68 402.82 239 405.25 C244.32 407.68 249.68 411.22 255 414.55 C260.32 417.88 265.58 421.7 270.9 425.25 C276.22 428.8 282.03 432.32 286.9 435.85 C291.77 439.38 296.57 443.13 300.1 446.45 C303.63 449.77 306.32 453.1 308.1 455.75 C309.88 458.4 310.8 460.13 310.8 462.35 C310.8 464.57 309.88 467.27 308.1 469.05 C306.32 470.83 303.2 471.5 300.1 473.05 C297 474.6 293.48 476.58 289.5 478.35 C285.52 480.12 281.52 481.67 276.2 483.65 C270.88 485.63 264.23 488.27 257.6 490.25 C250.97 492.23 243.47 493.95 236.4 495.55 C229.33 497.15 220.52 498.97 215.2 499.85 C209.88 500.73 209.37 500.8 204.5 500.85 C199.63 500.9 191.75 500.25 186 500.15 C180.25 500.05 176.22 500.22 170 500.25 C163.78 500.28 154.9 500.88 148.7 500.35 C142.5 499.82 139.88 498.67 132.8 497.05 C125.72 495.43 115.05 492.88 106.2 490.65 C97.35 488.42 87.43 485.93 79.7 483.65 C71.97 481.37 63.57 478.72 59.8 476.95 C56.03 475.18 59.53 474.82 57.1 473.05 C54.67 471.28 47.42 468.57 45.2 466.35 C42.98 464.13 42.48 462.85 43.8 459.75Z" fill="#0b4b9f" stroke="none" stroke-width="0.4"/>
<path d="M50.15 457.48 C51.29 454.55 55.02 449.7 58.44 446.09 C61.85 442.49 66.52 439.04 70.63 435.86 C74.75 432.67 78.92 429.72 83.13 426.97 C87.33 424.23 91.59 421.88 95.85 419.38 C100.11 416.88 104.37 414.44 108.68 411.97 C112.98 409.51 117.36 406.63 121.67 404.59 C125.98 402.54 130.48 400.73 134.53 399.72 C138.58 398.7 142.99 399.25 145.97 398.49 C148.96 397.73 150.08 395.76 152.44 395.15 C154.79 394.55 157.13 394.6 160.11 394.86 C163.09 395.13 166 396.25 170.32 396.73 C174.64 397.2 181.73 397.83 186.05 397.71 C190.37 397.6 193.5 396.5 196.26 396.03 C199.01 395.56 200.44 394.52 202.55 394.88 C204.67 395.25 205.77 397.22 208.97 398.22 C212.17 399.23 217.07 399.63 221.76 400.9 C226.44 402.16 231.93 403.54 237.08 405.79 C242.23 408.05 247.5 411.3 252.67 414.42 C257.83 417.54 262.98 421.13 268.06 424.5 C273.14 427.87 278.61 431.23 283.15 434.62 C287.69 438 292.07 441.62 295.29 444.8 C298.51 447.99 300.89 451.2 302.48 453.72 C304.06 456.24 304.85 457.84 304.79 459.92 C304.73 462 303.82 464.52 302.13 466.2 C300.44 467.87 297.57 468.51 294.66 469.97 C291.76 471.43 288.45 473.3 284.69 474.96 C280.94 476.62 277.18 478.09 272.14 479.95 C267.11 481.81 260.79 484.27 254.48 486.13 C248.17 487.98 241.04 489.59 234.29 491.08 C227.55 492.57 219.11 494.25 214.03 495.07 C208.95 495.89 208.46 495.94 203.8 496 C199.13 496.06 191.6 495.5 186.02 495.41 C180.45 495.33 176.36 495.48 170.34 495.5 C164.31 495.53 155.81 496.05 149.85 495.55 C143.9 495.05 141.38 494.02 134.6 492.52 C127.82 491.02 117.59 488.66 109.16 486.56 C100.74 484.47 91.36 482.11 84.06 479.96 C76.76 477.8 68.92 475.29 65.37 473.62 C61.81 471.96 65.01 471.65 62.72 469.99 C60.42 468.33 53.69 465.76 51.6 463.67 C49.5 461.59 49.01 460.41 50.15 457.48Z" fill="#0c4da1" stroke="rgba(0,30,70,0.3)" stroke-width="0.4"/>
<path d="M57.33 454.77 C58.26 452.06 61.41 447.57 64.4 444.18 C67.4 440.79 71.54 437.46 75.28 434.45 C79.02 431.43 82.9 428.68 86.84 426.11 C90.78 423.55 94.83 421.35 98.92 419.05 C103 416.75 107.16 414.51 111.35 412.29 C115.54 410.06 119.87 407.5 124.05 405.68 C128.23 403.86 132.56 402.28 136.44 401.37 C140.32 400.46 144.46 400.91 147.31 400.24 C150.17 399.57 151.32 397.88 153.58 397.35 C155.85 396.83 158.05 396.87 160.9 397.08 C163.75 397.3 166.47 398.24 170.68 398.64 C174.89 399.05 181.96 399.58 186.17 399.49 C190.38 399.39 193.32 398.47 195.94 398.08 C198.56 397.69 199.87 396.8 201.9 397.13 C203.93 397.45 205.05 399.13 208.12 400.01 C211.19 400.89 215.86 401.26 220.34 402.39 C224.83 403.52 230.06 404.75 235.04 406.77 C240.02 408.8 245.2 411.7 250.21 414.54 C255.21 417.38 260.25 420.68 265.07 423.81 C269.88 426.93 274.94 430.1 279.1 433.28 C283.25 436.47 287.13 439.91 289.98 442.91 C292.83 445.92 294.84 448.97 296.19 451.31 C297.53 453.66 298.16 455.1 298.03 457 C297.9 458.9 296.97 461.19 295.39 462.73 C293.81 464.26 291.23 464.86 288.55 466.2 C285.87 467.55 282.81 469.26 279.32 470.78 C275.83 472.31 272.35 473.66 267.64 475.37 C262.92 477.07 256.97 479.31 251.04 481.01 C245.1 482.7 238.38 484.17 232 485.51 C225.63 486.86 217.61 488.35 212.79 489.09 C207.96 489.83 207.52 489.87 203.07 489.94 C198.63 490.01 191.5 489.56 186.11 489.49 C180.71 489.43 176.54 489.56 170.71 489.57 C164.88 489.58 156.82 490 151.13 489.55 C145.44 489.1 143.03 488.21 136.58 486.87 C130.14 485.52 120.4 483.4 112.46 481.48 C104.52 479.57 95.76 477.38 88.96 475.39 C82.16 473.4 74.98 471.06 71.67 469.54 C68.35 468.01 71.2 467.76 69.07 466.25 C66.93 464.73 60.81 462.34 58.86 460.43 C56.9 458.51 56.41 457.47 57.33 454.77Z" fill="#0d50a4" stroke="rgba(0,30,70,0.3)" stroke-width="0.4"/>
<path d="M64.52 452.22 C65.22 449.79 67.78 445.75 70.34 442.65 C72.9 439.55 76.51 436.4 79.87 433.63 C83.22 430.86 86.79 428.35 90.45 426.02 C94.12 423.69 97.96 421.7 101.87 419.63 C105.77 417.57 109.82 415.59 113.89 413.64 C117.96 411.69 122.23 409.5 126.28 407.93 C130.32 406.37 134.47 405.03 138.17 404.25 C141.87 403.46 145.73 403.8 148.45 403.24 C151.18 402.67 152.35 401.29 154.52 400.85 C156.69 400.41 158.75 400.43 161.46 400.59 C164.17 400.76 166.7 401.52 170.79 401.84 C174.88 402.16 181.93 402.6 186.02 402.52 C190.12 402.45 192.86 401.72 195.35 401.41 C197.84 401.1 199.02 400.39 200.96 400.66 C202.89 400.93 204.03 402.31 206.97 403.05 C209.91 403.79 214.33 404.12 218.61 405.1 C222.89 406.07 227.86 407.13 232.65 408.88 C237.45 410.64 242.54 413.14 247.38 415.65 C252.21 418.15 257.13 421.11 261.67 423.93 C266.21 426.75 270.86 429.65 274.61 432.57 C278.37 435.48 281.74 438.67 284.2 441.44 C286.67 444.2 288.31 447.02 289.4 449.15 C290.49 451.27 290.97 452.52 290.76 454.21 C290.55 455.89 289.62 457.91 288.15 459.28 C286.69 460.64 284.41 461.19 281.96 462.39 C279.52 463.59 276.7 465.11 273.48 466.47 C270.27 467.84 267.08 469.05 262.7 470.56 C258.31 472.07 252.75 474.06 247.2 475.55 C241.64 477.05 235.35 478.35 229.36 479.53 C223.36 480.71 215.78 481.99 211.23 482.63 C206.68 483.28 206.28 483.31 202.06 483.39 C197.84 483.46 191.13 483.12 185.93 483.08 C180.72 483.04 176.46 483.15 170.84 483.15 C165.22 483.15 157.61 483.46 152.2 483.06 C146.79 482.67 144.49 481.94 138.39 480.77 C132.3 479.6 123.07 477.75 115.63 476.06 C108.2 474.36 100.06 472.38 93.78 470.6 C87.5 468.81 81 466.69 77.94 465.34 C74.87 463.98 77.36 463.8 75.39 462.45 C73.42 461.1 67.93 458.95 66.12 457.24 C64.31 455.54 63.82 454.65 64.52 452.22Z" fill="#0e55a9" stroke="rgba(0,30,70,0.3)" stroke-width="0.4"/>
<path d="M71.68 449.95 C72.19 447.83 74.2 444.3 76.36 441.55 C78.51 438.8 81.63 435.92 84.62 433.45 C87.6 430.97 90.87 428.77 94.27 426.71 C97.67 424.65 101.29 422.89 105.01 421.1 C108.73 419.31 112.66 417.6 116.59 415.94 C120.52 414.29 124.71 412.47 128.61 411.17 C132.51 409.86 136.47 408.77 139.98 408.11 C143.49 407.46 147.08 407.7 149.67 407.23 C152.26 406.77 153.44 405.68 155.51 405.33 C157.58 404.97 159.5 404.98 162.08 405.1 C164.65 405.22 166.98 405.8 170.94 406.05 C174.9 406.3 181.88 406.64 185.84 406.59 C189.8 406.53 192.34 405.98 194.7 405.74 C197.05 405.51 198.11 404.96 199.95 405.18 C201.8 405.41 202.94 406.48 205.75 407.09 C208.55 407.69 212.72 407.98 216.78 408.8 C220.85 409.61 225.55 410.49 230.15 411.97 C234.75 413.45 239.72 415.54 244.37 417.68 C249.03 419.83 253.81 422.39 258.07 424.86 C262.34 427.33 266.58 429.91 269.96 432.5 C273.33 435.1 276.23 437.96 278.34 440.43 C280.45 442.89 281.74 445.42 282.61 447.29 C283.47 449.16 283.8 450.21 283.53 451.66 C283.25 453.11 282.32 454.84 280.97 456.02 C279.61 457.19 277.61 457.68 275.39 458.72 C273.17 459.76 270.59 461.08 267.64 462.26 C264.7 463.44 261.78 464.49 257.72 465.79 C253.67 467.1 248.49 468.8 243.31 470.08 C238.13 471.37 232.27 472.49 226.65 473.49 C221.04 474.49 213.89 475.56 209.61 476.1 C205.34 476.65 204.97 476.67 200.99 476.75 C197.01 476.83 190.71 476.59 185.71 476.57 C180.71 476.55 176.41 476.64 171.01 476.62 C165.61 476.61 158.45 476.83 153.33 476.49 C148.21 476.15 146.02 475.57 140.28 474.59 C134.53 473.61 125.82 472.05 118.88 470.59 C111.94 469.13 104.43 467.39 98.64 465.84 C92.86 464.28 87.02 462.43 84.19 461.25 C81.37 460.08 83.52 459.96 81.71 458.8 C79.91 457.63 75.01 455.75 73.34 454.27 C71.67 452.8 71.18 452.07 71.68 449.95Z" fill="#1767b8" stroke="rgba(0,30,70,0.3)" stroke-width="0.4"/>
<path d="M76.25 448.51 C76.65 446.51 78.4 443.17 80.35 440.54 C82.29 437.91 85.15 435.12 87.93 432.74 C90.72 430.37 93.81 428.27 97.05 426.31 C100.28 424.35 103.76 422.68 107.35 420.98 C110.94 419.28 114.76 417.68 118.58 416.13 C122.4 414.58 126.5 412.9 130.28 411.69 C134.06 410.49 137.89 409.48 141.28 408.88 C144.66 408.27 148.08 408.47 150.57 408.05 C153.07 407.62 154.24 406.65 156.24 406.32 C158.24 406 160.07 406 162.55 406.1 C165.03 406.21 167.25 406.72 171.1 406.94 C174.95 407.16 181.8 407.46 185.65 407.42 C189.5 407.37 191.93 406.88 194.19 406.68 C196.45 406.48 197.45 405.99 199.22 406.19 C201 406.4 202.13 407.36 204.84 407.91 C207.55 408.46 211.55 408.74 215.47 409.5 C219.39 410.25 223.91 411.07 228.36 412.44 C232.81 413.82 237.67 415.75 242.18 417.77 C246.69 419.79 251.35 422.21 255.44 424.56 C259.52 426.9 263.53 429.37 266.69 431.85 C269.86 434.33 272.5 437.08 274.43 439.44 C276.35 441.8 277.47 444.22 278.22 446.01 C278.97 447.79 279.23 448.76 278.93 450.13 C278.63 451.5 277.72 453.12 276.43 454.23 C275.14 455.33 273.29 455.8 271.2 456.78 C269.11 457.77 266.67 459.01 263.88 460.12 C261.09 461.24 258.33 462.23 254.47 463.46 C250.62 464.69 245.67 466.29 240.73 467.5 C235.79 468.7 230.19 469.75 224.81 470.69 C219.44 471.63 212.58 472.62 208.48 473.13 C204.38 473.63 204.04 473.66 200.21 473.74 C196.39 473.81 190.35 473.62 185.51 473.6 C180.67 473.59 176.4 473.67 171.17 473.65 C165.94 473.63 159.07 473.82 154.14 473.5 C149.22 473.18 147.11 472.66 141.6 471.74 C136.09 470.83 127.71 469.38 121.08 468 C114.46 466.63 107.32 464.98 101.83 463.51 C96.35 462.04 90.87 460.27 88.19 459.16 C85.52 458.06 87.49 457.96 85.77 456.86 C84.06 455.77 79.49 453.98 77.91 452.59 C76.32 451.2 75.84 450.52 76.25 448.51Z" fill="#1c76c4" stroke="rgba(0,30,70,0.3)" stroke-width="0.4"/>
<path d="M81.1 447.07 C81.42 445.18 82.9 442.02 84.64 439.52 C86.39 437.02 88.98 434.32 91.56 432.06 C94.13 429.79 97.04 427.8 100.11 425.94 C103.17 424.08 106.49 422.49 109.93 420.89 C113.37 419.29 117.06 417.78 120.75 416.34 C124.44 414.9 128.42 413.35 132.07 412.24 C135.72 411.12 139.4 410.21 142.64 409.65 C145.88 409.08 149.12 409.25 151.51 408.87 C153.89 408.48 155.06 407.61 156.97 407.31 C158.89 407.02 160.63 407.02 163 407.11 C165.37 407.19 167.47 407.64 171.19 407.83 C174.91 408.03 181.6 408.3 185.32 408.26 C189.04 408.22 191.34 407.8 193.5 407.62 C195.66 407.44 196.59 407.01 198.29 407.2 C199.99 407.39 201.11 408.24 203.7 408.75 C206.3 409.25 210.12 409.51 213.87 410.21 C217.63 410.91 221.95 411.66 226.23 412.94 C230.52 414.21 235.23 416 239.58 417.88 C243.93 419.77 248.44 422.05 252.33 424.27 C256.22 426.49 259.98 428.84 262.93 431.2 C265.87 433.57 268.27 436.2 270 438.45 C271.74 440.7 272.7 443.03 273.34 444.72 C273.98 446.41 274.18 447.3 273.86 448.59 C273.54 449.88 272.64 451.39 271.42 452.43 C270.2 453.47 268.51 453.92 266.55 454.84 C264.59 455.77 262.3 456.93 259.67 457.98 C257.05 459.03 254.46 459.97 250.81 461.12 C247.17 462.28 242.48 463.77 237.79 464.9 C233.1 466.03 227.79 467.02 222.67 467.89 C217.56 468.77 211.02 469.68 207.11 470.15 C203.21 470.62 202.89 470.64 199.23 470.72 C195.57 470.8 189.83 470.64 185.17 470.63 C180.51 470.62 176.3 470.7 171.27 470.68 C166.23 470.66 159.69 470.8 154.97 470.51 C150.26 470.21 148.24 469.75 142.98 468.9 C137.73 468.05 129.73 466.7 123.44 465.41 C117.14 464.12 110.4 462.56 105.23 461.17 C100.07 459.78 94.96 458.11 92.44 457.07 C89.91 456.03 91.71 455.96 90.09 454.93 C88.48 453.9 84.25 452.21 82.75 450.9 C81.25 449.59 80.79 448.97 81.1 447.07Z" fill="#2289d1" stroke="rgba(0,30,70,0.3)" stroke-width="0.4"/>
<path d="M85.85 445.9 C86.08 444.1 87.33 441.1 88.88 438.71 C90.43 436.31 92.78 433.69 95.17 431.52 C97.56 429.34 100.3 427.44 103.2 425.66 C106.1 423.88 109.27 422.37 112.57 420.85 C115.87 419.33 119.44 417.91 123.01 416.56 C126.57 415.21 130.44 413.78 133.96 412.74 C137.48 411.71 141.02 410.87 144.12 410.35 C147.23 409.83 150.3 409.97 152.59 409.61 C154.88 409.25 156.02 408.48 157.86 408.21 C159.7 407.94 161.35 407.94 163.62 408.01 C165.89 408.08 167.88 408.47 171.47 408.64 C175.07 408.81 181.6 409.05 185.2 409.02 C188.79 408.99 190.97 408.62 193.04 408.47 C195.11 408.31 195.97 407.93 197.6 408.11 C199.23 408.28 200.33 409.04 202.82 409.5 C205.32 409.96 208.96 410.21 212.56 410.86 C216.16 411.51 220.29 412.2 224.42 413.4 C228.54 414.59 233.12 416.24 237.31 418.02 C241.5 419.8 245.87 421.96 249.58 424.07 C253.29 426.19 256.82 428.43 259.56 430.7 C262.31 432.97 264.47 435.5 266.04 437.66 C267.6 439.83 268.41 442.06 268.95 443.67 C269.49 445.28 269.63 446.12 269.29 447.33 C268.95 448.55 268.07 449.97 266.92 450.95 C265.77 451.94 264.21 452.36 262.38 453.24 C260.55 454.12 258.39 455.22 255.92 456.21 C253.45 457.2 251.02 458.1 247.57 459.19 C244.12 460.28 239.67 461.69 235.21 462.75 C230.76 463.81 225.72 464.75 220.85 465.57 C215.98 466.39 209.74 467.23 206.02 467.67 C202.29 468.11 201.99 468.13 198.5 468.21 C195 468.29 189.53 468.16 185.04 468.16 C180.55 468.16 176.4 468.22 171.56 468.2 C166.71 468.17 160.46 468.29 155.95 468.02 C151.44 467.74 149.5 467.32 144.49 466.53 C139.47 465.74 131.82 464.48 125.85 463.26 C119.87 462.05 113.5 460.56 108.62 459.24 C103.75 457.92 98.99 456.33 96.61 455.34 C94.23 454.36 95.86 454.3 94.34 453.33 C92.82 452.36 88.9 450.75 87.49 449.51 C86.07 448.27 85.62 447.7 85.85 445.9Z" fill="#279fde" stroke="rgba(0,30,70,0.3)" stroke-width="0.4"/>
<path d="M90.59 444.75 C90.74 443.04 91.77 440.19 93.14 437.89 C94.52 435.6 96.64 433.06 98.84 430.97 C101.04 428.88 103.61 427.06 106.35 425.36 C109.09 423.66 112.11 422.22 115.27 420.78 C118.43 419.34 121.88 417.99 125.31 416.73 C128.75 415.46 132.5 414.14 135.89 413.18 C139.28 412.22 142.67 411.45 145.63 410.97 C148.6 410.48 151.5 410.59 153.69 410.26 C155.88 409.94 157 409.25 158.77 409 C160.53 408.76 162.1 408.75 164.26 408.81 C166.43 408.87 168.3 409.21 171.77 409.36 C175.24 409.51 181.6 409.72 185.06 409.7 C188.53 409.67 190.59 409.35 192.56 409.22 C194.53 409.09 195.33 408.75 196.89 408.91 C198.45 409.07 199.53 409.75 201.92 410.17 C204.3 410.59 207.78 410.82 211.22 411.43 C214.66 412.03 218.6 412.68 222.56 413.79 C226.53 414.9 230.95 416.44 234.99 418.11 C239.02 419.79 243.24 421.83 246.76 423.85 C250.29 425.86 253.6 428.01 256.15 430.19 C258.69 432.36 260.64 434.8 262.04 436.88 C263.44 438.95 264.11 441.1 264.56 442.64 C265.01 444.18 265.09 444.96 264.74 446.1 C264.38 447.25 263.52 448.59 262.44 449.52 C261.35 450.45 259.93 450.86 258.22 451.69 C256.5 452.52 254.48 453.56 252.16 454.5 C249.85 455.44 247.56 456.29 244.31 457.32 C241.05 458.35 236.84 459.68 232.62 460.68 C228.41 461.68 223.63 462.56 219.01 463.33 C214.38 464.1 208.44 464.88 204.9 465.29 C201.35 465.71 201.08 465.72 197.74 465.8 C194.41 465.88 189.21 465.78 184.9 465.78 C180.58 465.79 176.51 465.85 171.86 465.82 C167.2 465.79 161.26 465.89 156.95 465.62 C152.64 465.36 150.79 464.99 146.01 464.25 C141.24 463.51 133.95 462.33 128.28 461.19 C122.62 460.04 116.61 458.62 112.03 457.37 C107.44 456.12 103.03 454.6 100.78 453.67 C98.54 452.74 100.02 452.7 98.59 451.78 C97.16 450.86 93.54 449.33 92.21 448.16 C90.87 446.99 90.43 446.46 90.59 444.75Z" fill="#2ab4ea" stroke="rgba(0,30,70,0.3)" stroke-width="0.4"/>
<path d="M94.42 443.49 C94.51 441.87 95.34 439.17 96.56 436.98 C97.77 434.78 99.69 432.33 101.73 430.33 C103.78 428.33 106.2 426.6 108.8 424.98 C111.4 423.36 114.3 421.99 117.34 420.62 C120.38 419.26 123.72 418 127.05 416.81 C130.38 415.63 134.04 414.41 137.32 413.53 C140.59 412.64 143.86 411.94 146.71 411.49 C149.56 411.04 152.33 411.12 154.43 410.83 C156.53 410.53 157.64 409.92 159.34 409.7 C161.03 409.48 162.53 409.46 164.61 409.51 C166.69 409.56 168.47 409.85 171.83 409.98 C175.19 410.11 181.41 410.29 184.77 410.28 C188.13 410.26 190.09 409.98 191.98 409.87 C193.87 409.76 194.62 409.47 196.12 409.62 C197.62 409.76 198.68 410.36 200.98 410.74 C203.28 411.12 206.6 411.35 209.91 411.9 C213.22 412.46 217.01 413.06 220.83 414.1 C224.66 415.13 228.96 416.55 232.86 418.12 C236.76 419.7 240.86 421.63 244.23 423.54 C247.6 425.45 250.72 427.51 253.1 429.58 C255.47 431.66 257.23 434 258.49 435.99 C259.75 437.98 260.29 440.04 260.65 441.5 C261.02 442.96 261.05 443.69 260.68 444.77 C260.31 445.84 259.47 447.1 258.44 447.98 C257.41 448.85 256.11 449.24 254.5 450.03 C252.89 450.81 250.98 451.8 248.8 452.68 C246.61 453.57 244.46 454.37 241.37 455.34 C238.28 456.31 234.27 457.56 230.25 458.5 C226.24 459.44 221.68 460.27 217.27 460.99 C212.86 461.71 207.17 462.43 203.78 462.82 C200.39 463.2 200.13 463.21 196.93 463.29 C193.73 463.37 188.77 463.3 184.6 463.31 C180.43 463.31 176.42 463.37 171.92 463.34 C167.42 463.31 161.73 463.38 157.6 463.13 C153.46 462.89 151.68 462.56 147.11 461.87 C142.53 461.18 135.55 460.09 130.15 459.01 C124.75 457.93 119.05 456.58 114.72 455.4 C110.39 454.21 106.26 452.77 104.14 451.89 C102.02 451.01 103.35 450.99 102 450.12 C100.65 449.26 97.3 447.8 96.03 446.7 C94.77 445.59 94.34 445.11 94.42 443.49Z" fill="#3cbbe6" stroke="rgba(0,30,70,0.3)" stroke-width="0.4"/>
<path d="M97.96 442.15 C97.98 440.62 98.63 438.06 99.7 435.96 C100.78 433.87 102.51 431.49 104.41 429.58 C106.31 427.66 108.6 426.02 111.08 424.48 C113.56 422.93 116.34 421.62 119.28 420.33 C122.21 419.05 125.46 417.85 128.69 416.75 C131.93 415.64 135.5 414.52 138.68 413.7 C141.86 412.88 145.02 412.24 147.77 411.83 C150.51 411.41 153.15 411.47 155.18 411.2 C157.21 410.93 158.3 410.39 159.94 410.19 C161.58 409.99 163 409.98 165.01 410.01 C167.02 410.05 168.71 410.3 171.97 410.41 C175.24 410.52 181.34 410.68 184.6 410.67 C187.86 410.66 189.73 410.42 191.55 410.33 C193.37 410.24 194.07 409.99 195.52 410.12 C196.96 410.25 198.01 410.78 200.23 411.12 C202.45 411.47 205.65 411.68 208.84 412.2 C212.03 412.72 215.67 413.27 219.37 414.23 C223.08 415.2 227.28 416.51 231.06 417.98 C234.84 419.46 238.83 421.29 242.06 423.1 C245.3 424.92 248.24 426.88 250.46 428.87 C252.68 430.85 254.26 433.1 255.39 435 C256.52 436.9 256.95 438.88 257.24 440.27 C257.53 441.66 257.51 442.34 257.13 443.35 C256.75 444.37 255.92 445.55 254.94 446.37 C253.96 447.2 252.76 447.57 251.25 448.31 C249.74 449.05 247.93 449.98 245.86 450.82 C243.79 451.66 241.76 452.42 238.82 453.33 C235.88 454.24 232.05 455.42 228.22 456.3 C224.38 457.19 220.03 457.96 215.81 458.64 C211.58 459.31 206.12 459.98 202.86 460.34 C199.61 460.7 199.37 460.7 196.3 460.78 C193.22 460.87 188.46 460.81 184.42 460.83 C180.38 460.84 176.42 460.89 172.06 460.86 C167.71 460.83 162.25 460.87 158.27 460.64 C154.29 460.41 152.57 460.12 148.18 459.48 C143.78 458.84 137.07 457.82 131.91 456.8 C126.75 455.79 121.33 454.51 117.22 453.39 C113.11 452.26 109.25 450.89 107.24 450.07 C105.23 449.24 106.44 449.23 105.16 448.41 C103.88 447.6 100.76 446.22 99.56 445.17 C98.36 444.13 97.94 443.69 97.96 442.15Z" fill="#5cc5c4" stroke="rgba(0,30,70,0.3)" stroke-width="0.4"/>
<path d="M102.97 440.56 C102.94 439.13 103.4 436.75 104.33 434.79 C105.25 432.82 106.78 430.57 108.5 428.77 C110.22 426.97 112.35 425.43 114.66 423.99 C116.97 422.55 119.58 421.32 122.36 420.12 C125.13 418.93 128.22 417.82 131.29 416.81 C134.37 415.79 137.78 414.78 140.8 414.04 C143.82 413.29 146.81 412.72 149.4 412.34 C151.99 411.96 154.45 412 156.37 411.76 C158.28 411.52 159.34 411.05 160.89 410.88 C162.43 410.7 163.77 410.68 165.66 410.71 C167.55 410.74 169.13 410.94 172.23 411.04 C175.34 411.13 181.19 411.27 184.29 411.26 C187.39 411.25 189.14 411.06 190.85 410.98 C192.56 410.91 193.2 410.7 194.57 410.82 C195.93 410.94 196.94 411.39 199.04 411.7 C201.14 412.01 204.15 412.2 207.16 412.67 C210.17 413.14 213.6 413.64 217.11 414.52 C220.62 415.4 224.63 416.59 228.22 417.95 C231.8 419.32 235.6 421.01 238.64 422.7 C241.67 424.4 244.39 426.24 246.42 428.1 C248.45 429.97 249.84 432.09 250.83 433.87 C251.81 435.66 252.13 437.52 252.34 438.82 C252.56 440.12 252.5 440.73 252.12 441.68 C251.73 442.62 250.93 443.7 250.02 444.46 C249.11 445.23 248.04 445.58 246.64 446.27 C245.25 446.95 243.58 447.82 241.66 448.59 C239.74 449.37 237.87 450.07 235.13 450.92 C232.39 451.77 228.82 452.85 225.23 453.66 C221.64 454.48 217.58 455.2 213.62 455.82 C209.66 456.44 204.52 457.04 201.47 457.37 C198.41 457.7 198.19 457.7 195.3 457.78 C192.41 457.86 187.94 457.83 184.11 457.85 C180.28 457.87 176.46 457.91 172.32 457.88 C168.19 457.84 163.07 457.87 159.32 457.66 C155.57 457.45 153.95 457.19 149.82 456.61 C145.69 456.02 139.37 455.09 134.54 454.15 C129.72 453.22 124.68 452.02 120.86 450.98 C117.05 449.93 113.51 448.65 111.65 447.89 C109.78 447.12 110.85 447.12 109.66 446.37 C108.47 445.61 105.64 444.33 104.52 443.36 C103.41 442.39 103 441.99 102.97 440.56Z" fill="#56b956" stroke="rgba(0,50,20,0.4)" stroke-width="0.4"/>
<path d="M109.31 439.77 C109.19 438.43 109.4 436.19 110.11 434.31 C110.82 432.44 112.08 430.26 113.57 428.54 C115.06 426.82 116.96 425.35 119.06 423.99 C121.15 422.62 123.56 421.46 126.13 420.33 C128.7 419.21 131.6 418.18 134.48 417.25 C137.37 416.32 140.6 415.42 143.42 414.75 C146.24 414.08 149.02 413.58 151.42 413.24 C153.82 412.9 156.05 412.91 157.82 412.69 C159.6 412.48 160.61 412.1 162.05 411.95 C163.49 411.8 164.71 411.78 166.45 411.79 C168.2 411.8 169.63 411.96 172.54 412.03 C175.45 412.1 181.01 412.21 183.92 412.2 C186.83 412.2 188.42 412.06 190 412.01 C191.58 411.96 192.14 411.8 193.4 411.9 C194.67 412.01 195.64 412.37 197.58 412.64 C199.53 412.91 202.3 413.09 205.09 413.52 C207.87 413.94 211.04 414.39 214.31 415.19 C217.58 415.99 221.37 417.06 224.72 418.33 C228.07 419.59 231.64 421.17 234.43 422.77 C237.21 424.37 239.64 426.13 241.42 427.9 C243.2 429.68 244.32 431.71 245.12 433.42 C245.91 435.13 246.06 436.91 246.17 438.14 C246.28 439.38 246.17 439.93 245.77 440.81 C245.37 441.68 244.61 442.68 243.78 443.4 C242.96 444.11 242.05 444.44 240.82 445.08 C239.58 445.73 238.09 446.53 236.37 447.26 C234.65 447.98 232.97 448.65 230.49 449.43 C228.01 450.22 224.75 451.22 221.49 451.98 C218.22 452.74 214.51 453.41 210.89 453.97 C207.26 454.54 202.54 455.09 199.74 455.39 C196.93 455.69 196.74 455.69 194.07 455.77 C191.4 455.85 187.31 455.85 183.74 455.87 C180.16 455.9 176.49 455.93 172.63 455.9 C168.78 455.86 164.07 455.86 160.61 455.66 C157.14 455.47 155.64 455.26 151.85 454.73 C148.05 454.2 142.22 453.35 137.82 452.47 C133.42 451.6 128.87 450.48 125.43 449.49 C122 448.51 118.9 447.3 117.22 446.59 C115.53 445.87 116.41 445.89 115.34 445.19 C114.28 444.49 111.82 443.27 110.82 442.37 C109.81 441.47 109.42 441.11 109.31 439.77Z" fill="#4db449" stroke="rgba(0,50,20,0.4)" stroke-width="0.4"/>
<path d="M114.78 439.07 C114.6 437.81 114.63 435.69 115.18 433.9 C115.72 432.11 116.76 430 118.06 428.35 C119.36 426.7 121.08 425.31 122.99 424.01 C124.9 422.71 127.13 421.6 129.53 420.55 C131.92 419.49 134.64 418.53 137.35 417.67 C140.05 416.8 143.11 415.99 145.75 415.38 C148.4 414.77 150.99 414.33 153.22 414.02 C155.45 413.71 157.49 413.7 159.13 413.51 C160.78 413.32 161.75 413.01 163.09 412.88 C164.43 412.75 165.55 412.72 167.17 412.72 C168.79 412.73 170.09 412.84 172.83 412.89 C175.56 412.94 180.85 413.03 183.58 413.03 C186.31 413.04 187.76 412.94 189.22 412.91 C190.69 412.87 191.18 412.75 192.36 412.84 C193.53 412.93 194.46 413.23 196.28 413.46 C198.09 413.7 200.65 413.87 203.24 414.26 C205.83 414.65 208.76 415.05 211.82 415.79 C214.88 416.52 218.45 417.5 221.59 418.67 C224.73 419.85 228.09 421.34 230.65 422.85 C233.22 424.37 235.41 426.05 236.98 427.74 C238.56 429.44 239.48 431.4 240.11 433.03 C240.75 434.67 240.79 436.38 240.82 437.55 C240.85 438.72 240.69 439.23 240.29 440.04 C239.89 440.86 239.17 441.8 238.41 442.46 C237.66 443.13 236.89 443.45 235.78 444.05 C234.68 444.66 233.33 445.42 231.78 446.1 C230.22 446.78 228.71 447.4 226.45 448.14 C224.19 448.88 221.21 449.81 218.21 450.52 C215.22 451.23 211.82 451.85 208.49 452.38 C205.15 452.9 200.79 453.4 198.2 453.67 C195.62 453.95 195.44 453.95 192.97 454.03 C190.51 454.11 186.73 454.14 183.39 454.16 C180.05 454.19 176.53 454.22 172.92 454.18 C169.32 454.14 164.97 454.12 161.76 453.94 C158.55 453.76 157.16 453.58 153.65 453.09 C150.14 452.61 144.75 451.83 140.71 451.01 C136.67 450.2 132.53 449.13 129.42 448.2 C126.31 447.28 123.56 446.13 122.03 445.46 C120.5 444.78 121.23 444.82 120.26 444.16 C119.3 443.5 117.15 442.36 116.24 441.51 C115.32 440.66 114.95 440.34 114.78 439.07Z" fill="#49b145" stroke="rgba(0,50,20,0.4)" stroke-width="0.4"/>
<path d="M119.96 438.41 C119.73 437.21 119.61 435.21 120.02 433.51 C120.43 431.8 121.27 429.76 122.41 428.18 C123.55 426.61 125.1 425.29 126.84 424.05 C128.58 422.82 130.63 421.77 132.85 420.77 C135.07 419.77 137.62 418.87 140.15 418.08 C142.68 417.28 145.56 416.54 148.03 415.99 C150.5 415.44 152.9 415.05 154.97 414.77 C157.03 414.49 158.89 414.45 160.42 414.29 C161.94 414.12 162.87 413.87 164.11 413.76 C165.36 413.65 166.38 413.62 167.88 413.61 C169.38 413.6 170.56 413.68 173.12 413.72 C175.68 413.75 180.67 413.82 183.23 413.83 C185.79 413.84 187.11 413.77 188.46 413.76 C189.81 413.74 190.25 413.64 191.34 413.73 C192.43 413.81 193.31 414.04 194.99 414.25 C196.68 414.46 199.04 414.62 201.44 414.97 C203.84 415.33 206.54 415.7 209.39 416.37 C212.24 417.05 215.6 417.93 218.53 419.03 C221.45 420.12 224.61 421.52 226.97 422.95 C229.32 424.38 231.29 425.99 232.68 427.61 C234.07 429.22 234.81 431.1 235.32 432.66 C235.83 434.22 235.77 435.87 235.74 436.98 C235.7 438.08 235.52 438.55 235.12 439.32 C234.72 440.08 234.03 440.95 233.35 441.57 C232.66 442.2 232.01 442.5 231.02 443.07 C230.03 443.64 228.82 444.35 227.42 444.99 C226.01 445.63 224.66 446.22 222.6 446.91 C220.55 447.6 217.82 448.47 215.08 449.13 C212.35 449.79 209.24 450.37 206.17 450.86 C203.11 451.34 199.09 451.79 196.71 452.05 C194.34 452.3 194.18 452.3 191.9 452.38 C189.62 452.46 186.16 452.51 183.04 452.53 C179.93 452.56 176.58 452.59 173.22 452.55 C169.86 452.51 165.86 452.47 162.89 452.3 C159.92 452.13 158.63 451.99 155.39 451.54 C152.16 451.1 147.19 450.38 143.49 449.62 C139.8 448.85 136.04 447.84 133.22 446.97 C130.4 446.1 127.97 445.01 126.59 444.38 C125.21 443.75 125.81 443.8 124.93 443.18 C124.06 442.56 122.18 441.48 121.36 440.68 C120.53 439.89 120.18 439.6 119.96 438.41Z" fill="#47b041" stroke="rgba(0,50,20,0.4)" stroke-width="0.4"/>
<path d="M124.95 437.75 C124.69 436.63 124.45 434.75 124.74 433.13 C125.03 431.51 125.71 429.54 126.7 428.03 C127.68 426.53 129.07 425.28 130.65 424.11 C132.23 422.94 134.11 421.94 136.16 421.01 C138.21 420.07 140.59 419.23 142.94 418.5 C145.29 417.76 147.99 417.1 150.28 416.6 C152.57 416.1 154.79 415.76 156.7 415.5 C158.6 415.24 160.29 415.19 161.7 415.05 C163.1 414.9 163.98 414.7 165.13 414.61 C166.28 414.51 167.21 414.48 168.59 414.47 C169.97 414.45 171.04 414.5 173.42 414.52 C175.8 414.54 180.49 414.6 182.87 414.61 C185.25 414.62 186.45 414.58 187.69 414.58 C188.93 414.58 189.32 414.51 190.32 414.58 C191.33 414.66 192.16 414.84 193.72 415.02 C195.27 415.2 197.44 415.35 199.65 415.67 C201.86 416 204.35 416.33 206.99 416.95 C209.63 417.57 212.77 418.36 215.48 419.39 C218.2 420.41 221.14 421.72 223.3 423.07 C225.46 424.42 227.22 425.95 228.44 427.49 C229.66 429.03 230.25 430.82 230.65 432.31 C231.04 433.8 230.9 435.37 230.82 436.42 C230.73 437.46 230.52 437.89 230.13 438.6 C229.74 439.32 229.09 440.12 228.48 440.71 C227.86 441.3 227.3 441.58 226.43 442.12 C225.55 442.65 224.46 443.31 223.2 443.91 C221.94 444.51 220.73 445.07 218.86 445.71 C217 446.36 214.52 447.17 212.03 447.78 C209.54 448.39 206.71 448.94 203.91 449.39 C201.11 449.84 197.43 450.24 195.25 450.48 C193.07 450.71 192.93 450.71 190.84 450.79 C188.75 450.87 185.58 450.93 182.69 450.96 C179.8 450.99 176.63 451.02 173.51 450.98 C170.4 450.94 166.74 450.88 164 450.72 C161.27 450.57 160.08 450.45 157.12 450.04 C154.15 449.63 149.58 448.97 146.22 448.26 C142.85 447.55 139.45 446.6 136.91 445.78 C134.38 444.95 132.24 443.93 130.99 443.34 C129.75 442.75 130.23 442.8 129.44 442.23 C128.66 441.65 127.03 440.63 126.28 439.88 C125.53 439.14 125.21 438.88 124.95 437.75Z" fill="#48b03f" stroke="rgba(0,50,20,0.4)" stroke-width="0.4"/>
<path d="M129.81 437.11 C129.53 436.06 129.19 434.29 129.38 432.75 C129.57 431.22 130.1 429.33 130.95 427.9 C131.8 426.47 133.04 425.29 134.46 424.19 C135.89 423.08 137.61 422.14 139.48 421.26 C141.36 420.39 143.56 419.6 145.73 418.93 C147.91 418.25 150.41 417.65 152.52 417.2 C154.64 416.75 156.68 416.45 158.42 416.22 C160.16 415.98 161.69 415.92 162.98 415.79 C164.27 415.66 165.09 415.51 166.14 415.43 C167.2 415.35 168.04 415.32 169.31 415.3 C170.57 415.28 171.53 415.3 173.73 415.31 C175.93 415.32 180.31 415.36 182.51 415.37 C184.7 415.39 185.79 415.38 186.92 415.38 C188.05 415.39 188.39 415.35 189.31 415.42 C190.23 415.48 191.01 415.61 192.44 415.77 C193.87 415.93 195.84 416.07 197.87 416.36 C199.89 416.66 202.17 416.96 204.6 417.52 C207.02 418.09 209.93 418.81 212.44 419.76 C214.95 420.7 217.67 421.93 219.63 423.2 C221.59 424.48 223.16 425.92 224.23 427.38 C225.3 428.84 225.75 430.55 226.04 431.97 C226.34 433.38 226.15 434.87 226.02 435.86 C225.89 436.85 225.67 437.24 225.29 437.91 C224.91 438.57 224.3 439.32 223.75 439.86 C223.19 440.41 222.73 440.68 221.95 441.18 C221.18 441.68 220.21 442.3 219.08 442.86 C217.96 443.42 216.88 443.94 215.2 444.54 C213.53 445.14 211.29 445.9 209.03 446.46 C206.78 447.03 204.21 447.54 201.67 447.95 C199.13 448.37 195.77 448.74 193.79 448.95 C191.81 449.16 191.69 449.16 189.78 449.24 C187.87 449.32 184.99 449.39 182.33 449.43 C179.67 449.46 176.69 449.48 173.82 449.44 C170.95 449.4 167.62 449.33 165.12 449.18 C162.62 449.04 161.53 448.95 158.83 448.57 C156.13 448.2 151.96 447.6 148.91 446.93 C145.86 446.27 142.81 445.37 140.53 444.6 C138.26 443.83 136.39 442.87 135.27 442.31 C134.16 441.76 134.54 441.83 133.84 441.29 C133.14 440.75 131.73 439.79 131.06 439.09 C130.39 438.4 130.09 438.17 129.81 437.11Z" fill="#4db23f" stroke="rgba(0,50,20,0.4)" stroke-width="0.4"/>
<path d="M134.55 436.48 C134.26 435.49 133.85 433.83 133.96 432.39 C134.07 430.94 134.48 429.13 135.2 427.78 C135.92 426.43 137.02 425.32 138.29 424.28 C139.56 423.23 141.12 422.35 142.83 421.53 C144.54 420.71 146.55 419.99 148.54 419.36 C150.53 418.74 152.84 418.21 154.77 417.8 C156.71 417.4 158.57 417.14 160.15 416.93 C161.73 416.72 163.1 416.64 164.27 416.53 C165.44 416.42 166.21 416.31 167.17 416.24 C168.13 416.17 168.88 416.14 170.03 416.11 C171.18 416.09 172.03 416.08 174.05 416.09 C176.07 416.09 180.11 416.11 182.13 416.13 C184.14 416.14 185.11 416.16 186.14 416.18 C187.16 416.19 187.45 416.17 188.29 416.23 C189.13 416.29 189.85 416.38 191.15 416.51 C192.45 416.65 194.24 416.78 196.08 417.05 C197.92 417.31 199.98 417.58 202.2 418.1 C204.42 418.61 207.09 419.26 209.38 420.14 C211.67 421.01 214.17 422.16 215.94 423.35 C217.72 424.55 219.09 425.91 220.02 427.29 C220.95 428.67 221.28 430.29 221.5 431.63 C221.71 432.97 221.47 434.38 221.31 435.31 C221.15 436.25 220.92 436.6 220.56 437.21 C220.2 437.83 219.63 438.52 219.14 439.03 C218.64 439.54 218.26 439.79 217.58 440.26 C216.9 440.72 216.05 441.3 215.05 441.82 C214.05 442.34 213.1 442.83 211.6 443.39 C210.11 443.95 208.09 444.65 206.07 445.17 C204.05 445.7 201.74 446.17 199.46 446.55 C197.17 446.93 194.13 447.26 192.34 447.45 C190.55 447.65 190.44 447.64 188.71 447.72 C186.98 447.8 184.38 447.88 181.95 447.92 C179.53 447.95 176.76 447.97 174.14 447.93 C171.52 447.89 168.51 447.81 166.24 447.68 C163.97 447.54 162.98 447.47 160.54 447.13 C158.1 446.79 154.32 446.24 151.58 445.63 C148.84 445.02 146.12 444.17 144.1 443.45 C142.08 442.73 140.46 441.82 139.47 441.31 C138.47 440.8 138.77 440.87 138.15 440.37 C137.52 439.87 136.33 438.96 135.73 438.32 C135.13 437.67 134.85 437.47 134.55 436.48Z" fill="#59b63f" stroke="rgba(0,50,20,0.4)" stroke-width="0.4"/>
<path d="M139.21 435.85 C138.91 434.93 138.46 433.38 138.5 432.02 C138.54 430.66 138.84 428.95 139.45 427.67 C140.05 426.4 141.02 425.36 142.14 424.38 C143.27 423.41 144.66 422.58 146.2 421.81 C147.74 421.05 149.57 420.38 151.37 419.81 C153.18 419.25 155.28 418.77 157.03 418.41 C158.78 418.04 160.46 417.82 161.88 417.63 C163.31 417.44 164.52 417.36 165.57 417.26 C166.63 417.16 167.33 417.09 168.19 417.03 C169.06 416.98 169.73 416.94 170.76 416.91 C171.79 416.88 172.55 416.86 174.38 416.86 C176.21 416.85 179.91 416.86 181.73 416.88 C183.56 416.9 184.42 416.93 185.34 416.96 C186.26 416.98 186.51 416.98 187.26 417.03 C188.02 417.08 188.69 417.13 189.86 417.25 C191.03 417.37 192.63 417.49 194.28 417.73 C195.94 417.97 197.79 418.21 199.79 418.67 C201.8 419.14 204.23 419.72 206.3 420.53 C208.38 421.34 210.65 422.4 212.23 423.52 C213.81 424.63 215.02 425.92 215.81 427.21 C216.6 428.51 216.84 430.04 216.98 431.3 C217.13 432.56 216.85 433.9 216.68 434.77 C216.5 435.64 216.26 435.96 215.92 436.53 C215.58 437.1 215.07 437.73 214.63 438.2 C214.19 438.67 213.88 438.92 213.29 439.35 C212.7 439.78 211.95 440.31 211.08 440.8 C210.2 441.28 209.37 441.73 208.05 442.25 C206.72 442.77 204.94 443.41 203.14 443.9 C201.34 444.38 199.29 444.82 197.25 445.16 C195.2 445.51 192.49 445.81 190.88 445.99 C189.28 446.16 189.19 446.16 187.64 446.23 C186.09 446.31 183.77 446.4 181.57 446.44 C179.38 446.47 176.83 446.49 174.46 446.45 C172.1 446.41 169.4 446.32 167.37 446.19 C165.33 446.07 164.44 446.02 162.25 445.71 C160.06 445.41 156.68 444.91 154.24 444.34 C151.8 443.77 149.4 442.98 147.62 442.31 C145.84 441.64 144.45 440.79 143.58 440.32 C142.71 439.84 142.93 439.91 142.38 439.45 C141.83 438.99 140.83 438.15 140.3 437.55 C139.77 436.95 139.51 436.77 139.21 435.85Z" fill="#74c03e" stroke="rgba(0,50,20,0.4)" stroke-width="0.4"/>
<path d="M143.93 434.45 C143.58 433.7 143.02 432.51 143 431.49 C142.99 430.47 143.24 429.37 143.82 428.33 C144.41 427.3 145.39 426.22 146.53 425.29 C147.66 424.35 149.09 423.5 150.63 422.73 C152.18 421.97 154.02 421.26 155.79 420.68 C157.55 420.1 159.59 419.62 161.24 419.25 C162.89 418.87 164.41 418.65 165.69 418.45 C166.96 418.25 167.99 418.15 168.89 418.05 C169.79 417.95 170.38 417.91 171.09 417.85 C171.8 417.8 172.35 417.76 173.13 417.72 C173.91 417.68 174.6 417.64 175.77 417.62 C176.94 417.61 178.98 417.61 180.15 417.63 C181.33 417.65 182.14 417.71 182.85 417.75 C183.55 417.78 183.76 417.8 184.37 417.85 C184.99 417.9 185.54 417.93 186.55 418.05 C187.56 418.16 188.93 418.3 190.42 418.54 C191.91 418.79 193.6 419.04 195.5 419.52 C197.41 420 199.79 420.61 201.85 421.43 C203.9 422.25 206.23 423.36 207.83 424.44 C209.43 425.52 210.65 426.81 211.43 427.93 C212.21 429.05 212.4 430.2 212.5 431.13 C212.6 432.07 212.26 432.88 212.04 433.53 C211.81 434.19 211.54 434.54 211.17 435.05 C210.8 435.56 210.26 436.14 209.81 436.58 C209.37 437.02 209.09 437.26 208.51 437.68 C207.92 438.1 207.18 438.62 206.31 439.1 C205.45 439.58 204.62 440.04 203.33 440.57 C202.04 441.1 200.28 441.76 198.57 442.27 C196.86 442.77 194.92 443.23 193.06 443.6 C191.19 443.96 188.79 444.27 187.4 444.46 C186 444.65 185.91 444.64 184.68 444.72 C183.45 444.81 181.51 444.93 180.04 444.97 C178.56 445.01 177.44 445.03 175.83 444.98 C174.23 444.93 172.05 444.82 170.41 444.69 C168.78 444.56 167.98 444.52 166.03 444.2 C164.07 443.87 160.96 443.35 158.68 442.75 C156.39 442.16 154.04 441.33 152.32 440.64 C150.6 439.95 149.24 439.1 148.38 438.62 C147.51 438.14 147.69 438.22 147.14 437.78 C146.59 437.34 145.62 436.53 145.08 435.97 C144.55 435.42 144.28 435.2 143.93 434.45Z" fill="#a9d039" stroke="rgba(0,50,20,0.4)" stroke-width="0.4"/>
<path d="M146.36 433.53 C146.04 432.86 145.52 431.79 145.5 430.87 C145.49 429.96 145.72 428.97 146.26 428.04 C146.81 427.11 147.72 426.14 148.77 425.3 C149.83 424.46 151.15 423.7 152.58 423.01 C154.02 422.32 155.73 421.69 157.37 421.17 C159.01 420.65 160.9 420.21 162.43 419.88 C163.96 419.54 165.37 419.34 166.55 419.16 C167.74 418.99 168.69 418.9 169.53 418.81 C170.36 418.72 170.91 418.68 171.57 418.63 C172.22 418.58 172.74 418.54 173.46 418.51 C174.18 418.47 174.83 418.43 175.92 418.42 C177 418.41 178.89 418.41 179.98 418.43 C181.08 418.45 181.83 418.5 182.48 418.53 C183.13 418.57 183.33 418.58 183.9 418.63 C184.47 418.67 184.98 418.7 185.91 418.8 C186.85 418.9 188.12 419.03 189.51 419.25 C190.89 419.47 192.46 419.69 194.23 420.13 C195.99 420.56 198.21 421.1 200.12 421.84 C202.02 422.57 204.18 423.57 205.67 424.54 C207.15 425.51 208.29 426.67 209.01 427.67 C209.73 428.68 209.9 429.71 210 430.55 C210.09 431.39 209.77 432.12 209.57 432.7 C209.36 433.29 209.11 433.61 208.77 434.07 C208.42 434.52 207.92 435.05 207.51 435.44 C207.1 435.83 206.84 436.05 206.29 436.42 C205.75 436.8 205.06 437.27 204.26 437.71 C203.46 438.14 202.69 438.55 201.49 439.02 C200.3 439.5 198.66 440.09 197.07 440.55 C195.48 441 193.68 441.41 191.95 441.74 C190.23 442.07 188 442.35 186.7 442.52 C185.41 442.68 185.32 442.68 184.18 442.75 C183.04 442.83 181.24 442.94 179.87 442.97 C178.5 443.01 177.46 443.02 175.97 442.98 C174.48 442.94 172.46 442.84 170.94 442.72 C169.42 442.61 168.69 442.57 166.87 442.28 C165.06 441.99 162.17 441.51 160.05 440.98 C157.93 440.45 155.74 439.7 154.15 439.08 C152.56 438.46 151.29 437.7 150.49 437.27 C149.69 436.84 149.85 436.92 149.34 436.52 C148.83 436.13 147.93 435.39 147.43 434.9 C146.94 434.4 146.69 434.2 146.36 433.53Z" fill="#dde029" stroke="rgba(0,30,70,0.3)" stroke-width="0.4"/>
<path d="M148.31 432.73 C148.01 432.13 147.52 431.17 147.5 430.35 C147.49 429.54 147.71 428.65 148.22 427.82 C148.73 426.99 149.58 426.12 150.57 425.37 C151.56 424.62 152.8 423.94 154.14 423.32 C155.49 422.71 157.09 422.14 158.63 421.68 C160.17 421.21 161.94 420.82 163.38 420.52 C164.81 420.22 166.14 420.04 167.25 419.88 C168.36 419.72 169.25 419.64 170.04 419.56 C170.82 419.48 171.34 419.45 171.95 419.4 C172.57 419.36 173.05 419.33 173.73 419.3 C174.41 419.27 175.01 419.23 176.03 419.22 C177.05 419.21 178.82 419.21 179.84 419.23 C180.87 419.24 181.58 419.29 182.19 419.32 C182.8 419.35 182.98 419.36 183.52 419.4 C184.05 419.44 184.53 419.47 185.41 419.56 C186.29 419.65 187.48 419.76 188.78 419.96 C190.08 420.15 191.55 420.36 193.2 420.74 C194.86 421.13 196.94 421.62 198.73 422.27 C200.52 422.93 202.54 423.82 203.93 424.69 C205.32 425.56 206.39 426.6 207.07 427.49 C207.75 428.39 207.91 429.32 208 430.07 C208.09 430.82 207.79 431.47 207.6 431.99 C207.4 432.52 207.17 432.8 206.84 433.21 C206.52 433.62 206.05 434.09 205.66 434.44 C205.28 434.79 205.03 434.98 204.52 435.32 C204.02 435.66 203.37 436.08 202.61 436.46 C201.86 436.85 201.14 437.22 200.02 437.64 C198.9 438.07 197.37 438.6 195.88 439.01 C194.38 439.41 192.7 439.78 191.07 440.08 C189.45 440.37 187.36 440.62 186.15 440.77 C184.93 440.92 184.85 440.91 183.78 440.98 C182.72 441.05 181.02 441.14 179.74 441.18 C178.46 441.21 177.48 441.22 176.08 441.18 C174.68 441.15 172.78 441.06 171.36 440.95 C169.94 440.85 169.25 440.81 167.55 440.56 C165.84 440.3 163.14 439.87 161.15 439.4 C159.16 438.92 157.11 438.25 155.61 437.7 C154.12 437.14 152.93 436.46 152.18 436.08 C151.43 435.7 151.58 435.76 151.1 435.41 C150.62 435.05 149.78 434.4 149.31 433.95 C148.85 433.51 148.61 433.33 148.31 432.73Z" fill="#f8ea1a" stroke="rgba(0,30,70,0.3)" stroke-width="0.4"/>
<path d="M152.2 431.55 C151.94 431.06 151.52 430.26 151.5 429.58 C151.49 428.9 151.68 428.16 152.12 427.47 C152.57 426.78 153.31 426.06 154.16 425.43 C155.02 424.81 156.1 424.24 157.27 423.73 C158.43 423.22 159.82 422.75 161.16 422.36 C162.49 421.97 164.03 421.65 165.28 421.4 C166.52 421.15 167.67 421 168.64 420.87 C169.6 420.74 170.38 420.67 171.06 420.6 C171.74 420.54 172.19 420.51 172.72 420.47 C173.25 420.43 173.67 420.41 174.26 420.38 C174.85 420.36 175.37 420.32 176.26 420.31 C177.14 420.3 178.68 420.31 179.57 420.32 C180.46 420.34 181.07 420.37 181.6 420.4 C182.13 420.42 182.29 420.43 182.75 420.47 C183.22 420.5 183.63 420.52 184.4 420.6 C185.16 420.68 186.19 420.77 187.32 420.93 C188.45 421.09 189.72 421.26 191.16 421.58 C192.6 421.91 194.4 422.31 195.95 422.86 C197.51 423.41 199.27 424.14 200.47 424.87 C201.68 425.59 202.61 426.45 203.19 427.2 C203.78 427.94 203.92 428.72 204 429.34 C204.07 429.96 203.82 430.51 203.65 430.94 C203.48 431.38 203.28 431.62 203 431.96 C202.72 432.29 202.31 432.68 201.97 432.98 C201.64 433.27 201.42 433.43 200.98 433.71 C200.54 433.99 199.98 434.34 199.33 434.66 C198.68 434.98 198.05 435.29 197.08 435.64 C196.1 435.99 194.77 436.44 193.48 436.78 C192.18 437.11 190.72 437.42 189.31 437.66 C187.91 437.91 186.09 438.12 185.04 438.24 C183.98 438.37 183.91 438.36 182.99 438.42 C182.06 438.47 180.59 438.55 179.48 438.58 C178.36 438.61 177.51 438.62 176.3 438.59 C175.09 438.55 173.44 438.48 172.21 438.39 C170.97 438.31 170.37 438.28 168.9 438.06 C167.42 437.85 165.07 437.49 163.34 437.1 C161.62 436.7 159.84 436.15 158.54 435.69 C157.24 435.23 156.21 434.66 155.56 434.34 C154.91 434.02 155.04 434.07 154.63 433.78 C154.21 433.49 153.48 432.94 153.07 432.57 C152.67 432.2 152.47 432.05 152.2 431.55Z" fill="#fdc80f" stroke="none" stroke-width="0.4"/>
<path d="M155.61 430.46 C155.38 430.06 155.01 429.41 155 428.85 C154.99 428.3 155.15 427.7 155.54 427.14 C155.92 426.57 156.57 425.99 157.31 425.48 C158.05 424.97 158.99 424.51 160 424.09 C161.01 423.67 162.21 423.29 163.37 422.98 C164.53 422.66 165.86 422.4 166.94 422.19 C168.02 421.99 169.02 421.87 169.85 421.76 C170.69 421.66 171.36 421.6 171.95 421.55 C172.54 421.49 172.93 421.47 173.39 421.44 C173.85 421.41 174.21 421.39 174.72 421.37 C175.23 421.35 175.69 421.32 176.46 421.31 C177.22 421.3 178.55 421.31 179.32 421.32 C180.1 421.33 180.63 421.36 181.09 421.38 C181.55 421.4 181.68 421.41 182.09 421.44 C182.49 421.46 182.85 421.48 183.51 421.54 C184.17 421.61 185.07 421.68 186.04 421.81 C187.02 421.95 188.13 422.08 189.37 422.35 C190.62 422.61 192.18 422.94 193.53 423.38 C194.87 423.83 196.4 424.43 197.44 425.02 C198.49 425.61 199.29 426.31 199.8 426.92 C200.31 427.52 200.43 428.15 200.5 428.66 C200.56 429.17 200.34 429.61 200.2 429.96 C200.05 430.32 199.87 430.51 199.63 430.79 C199.39 431.07 199.03 431.38 198.74 431.62 C198.45 431.86 198.27 431.99 197.89 432.22 C197.5 432.45 197.01 432.73 196.45 432.99 C195.89 433.26 195.34 433.5 194.5 433.79 C193.65 434.08 192.5 434.44 191.38 434.71 C190.26 434.99 188.99 435.24 187.77 435.44 C186.55 435.64 184.98 435.81 184.07 435.91 C183.15 436.01 183.09 436 182.29 436.05 C181.48 436.1 180.21 436.16 179.25 436.18 C178.28 436.21 177.55 436.21 176.5 436.19 C175.44 436.16 174.02 436.1 172.95 436.03 C171.88 435.96 171.36 435.94 170.08 435.76 C168.8 435.59 166.76 435.3 165.26 434.98 C163.77 434.66 162.23 434.2 161.1 433.83 C159.98 433.45 159.08 432.99 158.52 432.73 C157.95 432.47 158.07 432.52 157.71 432.28 C157.35 432.04 156.71 431.59 156.36 431.29 C156.01 430.99 155.84 430.87 155.61 430.46Z" fill="#f8981d" stroke="none" stroke-width="0.4"/>
<path d="M156.97 429.89 C156.76 429.54 156.41 428.97 156.4 428.49 C156.39 428.01 156.54 427.48 156.9 426.99 C157.26 426.5 157.86 425.99 158.56 425.55 C159.25 425.1 160.12 424.7 161.07 424.34 C162.01 423.97 163.14 423.64 164.22 423.36 C165.3 423.09 166.55 422.86 167.55 422.68 C168.56 422.5 169.49 422.4 170.27 422.3 C171.05 422.21 171.68 422.16 172.23 422.11 C172.78 422.07 173.15 422.05 173.58 422.02 C174.01 421.99 174.35 421.98 174.82 421.96 C175.3 421.94 175.73 421.92 176.44 421.91 C177.16 421.9 178.4 421.91 179.12 421.92 C179.84 421.93 180.34 421.95 180.77 421.97 C181.2 421.99 181.32 422 181.7 422.02 C182.08 422.04 182.41 422.06 183.03 422.11 C183.65 422.17 184.48 422.23 185.4 422.35 C186.31 422.46 187.34 422.58 188.51 422.81 C189.67 423.04 191.13 423.33 192.39 423.72 C193.64 424.11 195.07 424.63 196.04 425.15 C197.02 425.66 197.77 426.27 198.25 426.8 C198.72 427.33 198.84 427.88 198.9 428.32 C198.96 428.76 198.75 429.15 198.62 429.46 C198.48 429.77 198.31 429.94 198.09 430.18 C197.86 430.42 197.53 430.7 197.26 430.91 C196.99 431.11 196.81 431.23 196.46 431.43 C196.1 431.62 195.64 431.87 195.12 432.1 C194.59 432.33 194.08 432.55 193.3 432.8 C192.51 433.05 191.43 433.36 190.38 433.6 C189.33 433.84 188.15 434.06 187.01 434.24 C185.87 434.41 184.4 434.56 183.55 434.64 C182.7 434.73 182.64 434.73 181.89 434.77 C181.14 434.81 179.95 434.87 179.05 434.89 C178.15 434.91 177.46 434.91 176.48 434.89 C175.5 434.87 174.16 434.82 173.16 434.75 C172.16 434.69 171.68 434.67 170.48 434.52 C169.29 434.37 167.38 434.11 165.99 433.83 C164.59 433.55 163.15 433.16 162.1 432.83 C161.05 432.5 160.22 432.1 159.69 431.87 C159.16 431.65 159.27 431.69 158.93 431.48 C158.6 431.27 158 430.88 157.67 430.62 C157.35 430.35 157.18 430.25 156.97 429.89Z" fill="#f15a22" stroke="none" stroke-width="0.4"/>
<path d="M158.33 429.39 C158.13 429.08 157.81 428.6 157.8 428.18 C157.79 427.76 157.93 427.31 158.27 426.89 C158.6 426.47 159.16 426.02 159.81 425.64 C160.46 425.26 161.27 424.91 162.15 424.6 C163.03 424.28 164.08 424 165.09 423.76 C166.09 423.52 167.25 423.32 168.19 423.17 C169.13 423.02 170 422.93 170.73 422.85 C171.45 422.77 172.04 422.73 172.55 422.69 C173.06 422.64 173.4 422.63 173.81 422.6 C174.21 422.58 174.52 422.57 174.97 422.55 C175.41 422.53 175.81 422.52 176.47 422.51 C177.14 422.5 178.3 422.5 178.97 422.51 C179.64 422.52 180.1 422.55 180.5 422.56 C180.91 422.58 181.02 422.58 181.37 422.6 C181.73 422.62 182.04 422.64 182.61 422.68 C183.19 422.73 183.97 422.78 184.82 422.89 C185.67 422.99 186.63 423.09 187.72 423.29 C188.8 423.48 190.16 423.73 191.33 424.07 C192.5 424.4 193.83 424.85 194.74 425.3 C195.65 425.74 196.35 426.27 196.79 426.72 C197.23 427.18 197.34 427.65 197.4 428.03 C197.46 428.41 197.26 428.75 197.14 429.01 C197.01 429.28 196.85 429.43 196.64 429.63 C196.43 429.84 196.12 430.08 195.87 430.26 C195.62 430.44 195.46 430.53 195.12 430.71 C194.79 430.88 194.37 431.09 193.88 431.29 C193.38 431.49 192.91 431.67 192.18 431.89 C191.44 432.11 190.44 432.38 189.46 432.58 C188.49 432.79 187.38 432.98 186.32 433.13 C185.26 433.28 183.89 433.4 183.1 433.48 C182.3 433.56 182.25 433.55 181.55 433.59 C180.85 433.62 179.74 433.67 178.9 433.69 C178.06 433.71 177.42 433.71 176.51 433.69 C175.59 433.67 174.35 433.63 173.42 433.57 C172.49 433.52 172.04 433.5 170.92 433.37 C169.81 433.24 168.03 433.02 166.73 432.78 C165.43 432.54 164.09 432.2 163.11 431.92 C162.13 431.64 161.35 431.29 160.86 431.09 C160.37 430.9 160.47 430.93 160.16 430.75 C159.85 430.57 159.29 430.24 158.99 430.01 C158.68 429.78 158.53 429.69 158.33 429.39Z" fill="#ed1f24" stroke="none" stroke-width="0.4"/>
</g>
<rect x="29.2" y="389.3" width="296.6" height="116.7" fill="none" stroke="#747474" stroke-width="0.9"/>
<path d="M37 506 L37 504.4 M46.4 506 L46.4 505 M55.8 506 L55.8 505 M65.2 506 L65.2 505 M74.6 506 L74.6 505 M84 506 L84 504.4 M93.4 506 L93.4 505 M102.8 506 L102.8 505 M112.2 506 L112.2 505 M121.6 506 L121.6 505 M131 506 L131 504.4 M140.4 506 L140.4 505 M149.8 506 L149.8 505 M159.2 506 L159.2 505 M168.6 506 L168.6 505 M178 506 L178 504.4 M187.4 506 L187.4 505 M196.8 506 L196.8 505 M206.2 506 L206.2 505 M215.6 506 L215.6 505 M225 506 L225 504.4 M234.4 506 L234.4 505 M243.8 506 L243.8 505 M253.2 506 L253.2 505 M262.6 506 L262.6 505 M272 506 L272 504.4 M281.4 506 L281.4 505 M290.8 506 L290.8 505 M300.2 506 L300.2 505 M309.6 506 L309.6 505 M319 506 L319 504.4 M325.9 390.2 L324.5 390.2 M325.9 399.6 L324.5 399.6 M325.9 409 L324.5 409 M325.9 418.4 L324.5 418.4 M325.9 427.8 L323.6 427.8 M325.9 437.2 L324.5 437.2 M325.9 446.6 L324.5 446.6 M325.9 456 L324.5 456 M325.9 465.4 L324.5 465.4 M325.9 474.8 L323.6 474.8 M325.9 484.2 L324.5 484.2 M325.9 493.6 L324.5 493.6 " fill="none" stroke="#b5b5b5" stroke-width="0.4"/>
<text x="37.2" y="516.3" font-size="5.8" text-anchor="middle" font-weight="bold" fill="#222" stroke="#222" stroke-width="0.25">15</text>
<text x="82.4" y="516.3" font-size="5.8" text-anchor="middle" font-weight="bold" fill="#222" stroke="#222" stroke-width="0.25">10</text>
<text x="130.7" y="516.3" font-size="5.8" text-anchor="middle" font-weight="bold" fill="#222" stroke="#222" stroke-width="0.25">5</text>
<text x="178" y="516.3" font-size="5.8" text-anchor="middle" font-weight="bold" fill="#222" stroke="#222" stroke-width="0.25">0</text>
<text x="224.6" y="516.3" font-size="5.8" text-anchor="middle" font-weight="bold" fill="#222" stroke="#222" stroke-width="0.25">5</text>
<text x="271.6" y="516.3" font-size="5.8" text-anchor="middle" font-weight="bold" fill="#222" stroke="#222" stroke-width="0.25">10</text>
<text x="318.4" y="516.3" font-size="5.8" text-anchor="middle" font-weight="bold" fill="#222" stroke="#222" stroke-width="0.25">15</text>
<text x="178" y="525.4" font-size="5.5" text-anchor="middle" font-weight="bold" fill="#333" stroke="#333" stroke-width="0.2">[m]</text>
<text x="14.2" y="529.4" font-size="5" text-anchor="middle" font-weight="bold" fill="#777">Y, m</text>
<text x="333.4" y="429.9" font-size="5.8" text-anchor="middle" font-weight="bold" fill="#222" stroke="#222" stroke-width="0.25">5</text>
<text x="334.8" y="476.9" font-size="5.8" text-anchor="middle" font-weight="bold" fill="#222" stroke="#222" stroke-width="0.25">10</text>
<rect x="45.2" y="603.8" width="13.16" height="36.2" fill="#0f4fa0"/>
<rect x="58.06" y="603.8" width="13.16" height="34.8" fill="#1458a8"/>
<rect x="70.92" y="603.8" width="13.16" height="33.5" fill="#1f6bb8"/>
<rect x="83.78" y="603.8" width="13.16" height="32" fill="#2e8ccf"/>
<rect x="96.64" y="603.8" width="13.16" height="30.9" fill="#30b2e8"/>
<rect x="109.5" y="603.8" width="13.16" height="30" fill="#55c3e3"/>
<rect x="122.36" y="603.8" width="13.16" height="29.2" fill="#62c0ad"/>
<rect x="135.22" y="603.8" width="13.16" height="28.7" fill="#66bf8a"/>
<rect x="148.08" y="603.8" width="13.16" height="28.2" fill="#5cb947"/>
<rect x="160.94" y="603.8" width="13.16" height="27.9" fill="#5cb947"/>
<rect x="173.8" y="603.8" width="13.16" height="27.7" fill="#5cb947"/>
<rect x="186.66" y="603.8" width="13.16" height="27.5" fill="#5cb947"/>
<rect x="199.52" y="603.8" width="13.16" height="27.4" fill="#7cc142"/>
<rect x="212.38" y="603.8" width="13.16" height="27.2" fill="#a6ce39"/>
<rect x="225.24" y="603.8" width="13.16" height="26.4" fill="#d2dc2a"/>
<rect x="238.1" y="603.8" width="13.16" height="26" fill="#fff200"/>
<rect x="250.96" y="603.8" width="13.16" height="25.8" fill="#ffd200"/>
<rect x="263.82" y="603.8" width="13.16" height="25.6" fill="#f9a61a"/>
<rect x="276.68" y="603.8" width="13.16" height="25.6" fill="#f58220"/>
<rect x="289.54" y="603.8" width="13.16" height="26.1" fill="#ef4123"/>
<rect x="302.4" y="603.8" width="13.16" height="26.6" fill="#ed1c24"/>
<path d="M45.2 616.8 L315.26 616.8 L315.26 641 L45.2 641Z" fill="#fff" opacity="0.04"/>
<path d="M45.2 616.8 L315.26 616.8 M45.2 603.8 L45.2 616.8 M58.06 603.8 L58.06 616.8 M70.92 603.8 L70.92 616.8 M83.78 603.8 L83.78 616.8 M96.64 603.8 L96.64 616.8 M109.5 603.8 L109.5 616.8 M122.36 603.8 L122.36 616.8 M135.22 603.8 L135.22 616.8 M148.08 603.8 L148.08 616.8 M160.94 603.8 L160.94 616.8 M173.8 603.8 L173.8 616.8 M186.66 603.8 L186.66 616.8 M199.52 603.8 L199.52 616.8 M212.38 603.8 L212.38 616.8 M225.24 603.8 L225.24 616.8 M238.1 603.8 L238.1 616.8 M250.96 603.8 L250.96 616.8 M263.82 603.8 L263.82 616.8 M276.68 603.8 L276.68 616.8 M289.54 603.8 L289.54 616.8 M302.4 603.8 L302.4 616.8 M315.26 603.8 L315.26 616.8 " fill="none" stroke="rgba(0,0,0,0.55)" stroke-width="0.5"/>
<path d="M44.2 648.2 L315.76 648.2" fill="none" stroke="#a8a8a8" stroke-width="0.6"/>
<path d="M45.2 648.2 L45.2 650.2 M58.06 648.2 L58.06 649.2 M70.92 648.2 L70.92 649.2 M83.78 648.2 L83.78 650.2 M96.64 648.2 L96.64 649.2 M109.5 648.2 L109.5 649.2 M122.36 648.2 L122.36 650.2 M135.22 648.2 L135.22 649.2 M148.08 648.2 L148.08 649.2 M160.94 648.2 L160.94 650.2 M173.8 648.2 L173.8 649.2 M186.66 648.2 L186.66 649.2 M199.52 648.2 L199.52 650.2 M212.38 648.2 L212.38 649.2 M225.24 648.2 L225.24 649.2 M238.1 648.2 L238.1 650.2 M250.96 648.2 L250.96 649.2 M263.82 648.2 L263.82 649.2 M276.68 648.2 L276.68 650.2 M289.54 648.2 L289.54 649.2 M302.4 648.2 L302.4 649.2 M315.26 648.2 L315.26 650.2 " fill="none" stroke="#999" stroke-width="0.5"/>
<text x="45.2" y="654.6" font-size="4" text-anchor="middle" font-weight="bold" fill="#b0b0b0">0</text>
<text x="83.78" y="654.6" font-size="4" text-anchor="middle" font-weight="bold" fill="#b0b0b0">1</text>
<text x="122.36" y="654.6" font-size="4" text-anchor="middle" font-weight="bold" fill="#b0b0b0">2</text>
<text x="160.94" y="654.6" font-size="4" text-anchor="middle" font-weight="bold" fill="#b0b0b0">3</text>
<text x="199.52" y="654.6" font-size="4" text-anchor="middle" font-weight="bold" fill="#b0b0b0">4</text>
<text x="238.1" y="654.6" font-size="4" text-anchor="middle" font-weight="bold" fill="#b0b0b0">5</text>
<text x="276.68" y="654.6" font-size="4" text-anchor="middle" font-weight="bold" fill="#b0b0b0">6</text>
<text x="315.26" y="654.6" font-size="4" text-anchor="middle" font-weight="bold" fill="#b0b0b0">7</text>
<text x="41" y="637" font-size="3.5" text-anchor="middle" font-weight="bold" fill="#b0b0b0">1</text>
<text x="41" y="645" font-size="3.5" text-anchor="middle" font-weight="bold" fill="#b0b0b0">2</text>
<text x="321.2" y="649.4" font-size="6.4" text-anchor="middle" font-weight="bold" fill="#555" transform="rotate(90 321.2 649.4)">[lux]</text>
<path d="M45 675.4 L190 675.4" fill="none" stroke="#ccc" stroke-width="0.5" stroke-dasharray="9 4"/>
<text x="119.6" y="681.2" font-size="5" text-anchor="middle" font-weight="bold" fill="#555">X, mm</text>
<rect x="246.6" y="675.0" width="11.2" height="7.0" fill="#111"/>
<text x="262.6" y="682.6" font-size="4.5" text-anchor="middle" font-weight="bold" fill="#777">0</text>
</svg>
</body>
</html>
